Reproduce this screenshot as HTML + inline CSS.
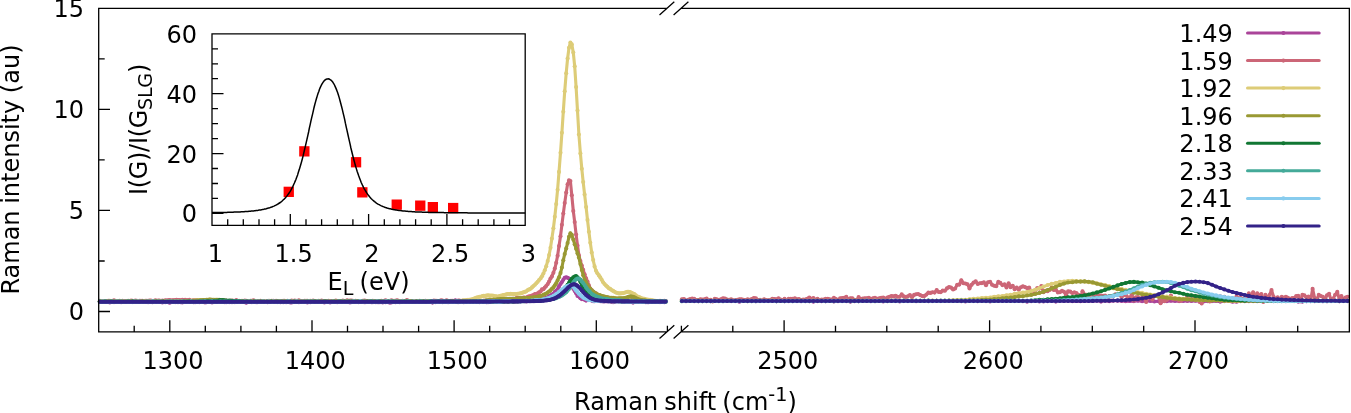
<!DOCTYPE html>
<html lang="en"><head><meta charset="utf-8"><title>Raman spectra</title>
<style>html,body{margin:0;padding:0;background:#fff}svg{display:block}</style></head>
<body>
<svg width="1351" height="413" viewBox="0 0 1351 413">
<rect width="1351" height="413" fill="#fff"/>
<defs>
<marker id="m0" markerUnits="userSpaceOnUse" markerWidth="6" markerHeight="6" refX="3" refY="3" viewBox="0 0 6 6"><circle cx="3" cy="3" r="2.05" fill="#AA4499"/></marker>
<marker id="m1" markerUnits="userSpaceOnUse" markerWidth="6" markerHeight="6" refX="3" refY="3" viewBox="0 0 6 6"><circle cx="3" cy="3" r="2.05" fill="#CC6677"/></marker>
<marker id="m2" markerUnits="userSpaceOnUse" markerWidth="6" markerHeight="6" refX="3" refY="3" viewBox="0 0 6 6"><circle cx="3" cy="3" r="2.05" fill="#DDCC77"/></marker>
<marker id="m3" markerUnits="userSpaceOnUse" markerWidth="6" markerHeight="6" refX="3" refY="3" viewBox="0 0 6 6"><circle cx="3" cy="3" r="2.05" fill="#999933"/></marker>
<marker id="m4" markerUnits="userSpaceOnUse" markerWidth="6" markerHeight="6" refX="3" refY="3" viewBox="0 0 6 6"><circle cx="3" cy="3" r="2.05" fill="#117733"/></marker>
<marker id="m5" markerUnits="userSpaceOnUse" markerWidth="6" markerHeight="6" refX="3" refY="3" viewBox="0 0 6 6"><circle cx="3" cy="3" r="2.05" fill="#44AA99"/></marker>
<marker id="m6" markerUnits="userSpaceOnUse" markerWidth="6" markerHeight="6" refX="3" refY="3" viewBox="0 0 6 6"><circle cx="3" cy="3" r="2.05" fill="#88CCEE"/></marker>
<marker id="m7" markerUnits="userSpaceOnUse" markerWidth="6" markerHeight="6" refX="3" refY="3" viewBox="0 0 6 6"><circle cx="3" cy="3" r="2.05" fill="#332288"/></marker>
</defs>
<g fill="none" stroke-width="3.1" stroke-linejoin="round" stroke-linecap="round">
<path stroke="#AA4499" marker-start="url(#m0)" marker-mid="url(#m0)" marker-end="url(#m0)" d="M99.8,301.9 L101.2,302.0 L102.6,301.8 L104.1,301.5 L105.5,301.7 L106.9,301.5 L108.3,301.9 L109.8,302.4 L111.2,301.7 L112.6,301.6 L114.0,302.1 L115.4,302.0 L116.9,301.9 L118.3,301.5 L119.7,301.9 L121.1,302.2 L122.5,301.4 L124.0,301.7 L125.4,301.1 L126.8,301.4 L128.2,301.2 L129.7,301.8 L131.1,301.4 L132.5,302.0 L133.9,302.0 L135.3,301.8 L136.8,300.9 L138.2,301.7 L139.6,301.9 L141.0,301.9 L142.5,301.3 L143.9,301.7 L145.3,301.5 L146.7,301.6 L148.1,302.3 L149.6,301.6 L151.0,301.9 L152.4,302.2 L153.8,301.7 L155.3,301.8 L156.7,301.9 L158.1,301.9 L159.5,301.4 L160.9,301.9 L162.4,302.4 L163.8,301.3 L165.2,302.2 L166.6,301.9 L168.0,301.6 L169.5,302.7 L170.9,302.2 L172.3,301.4 L173.7,301.9 L175.2,302.1 L176.6,301.8 L178.0,302.2 L179.4,301.9 L180.8,302.2 L182.3,302.5 L183.7,301.6 L185.1,302.0 L186.5,301.7 L188.0,301.9 L189.4,301.4 L190.8,301.7 L192.2,301.8 L193.6,302.2 L195.1,302.3 L196.5,301.4 L197.9,301.6 L199.3,302.1 L200.7,301.1 L202.2,301.7 L203.6,301.8 L205.0,302.4 L206.4,302.2 L207.9,301.8 L209.3,301.7 L210.7,301.8 L212.1,302.5 L213.5,301.7 L215.0,301.8 L216.4,302.0 L217.8,301.8 L219.2,301.8 L220.7,301.4 L222.1,301.9 L223.5,301.7 L224.9,302.3 L226.3,302.1 L227.8,301.9 L229.2,302.1 L230.6,301.7 L232.0,302.3 L233.4,301.9 L234.9,302.1 L236.3,301.4 L237.7,302.0 L239.1,301.2 L240.6,301.1 L242.0,301.8 L243.4,301.5 L244.8,301.9 L246.2,302.8 L247.7,301.5 L249.1,301.6 L250.5,302.0 L251.9,302.1 L253.4,301.8 L254.8,301.8 L256.2,302.2 L257.6,302.1 L259.0,301.5 L260.5,301.8 L261.9,301.9 L263.3,301.5 L264.7,302.0 L266.2,301.5 L267.6,302.3 L269.0,302.0 L270.4,301.9 L271.8,301.6 L273.3,301.8 L274.7,301.1 L276.1,301.4 L277.5,302.0 L278.9,301.0 L280.4,302.2 L281.8,301.2 L283.2,302.2 L284.6,301.5 L286.1,302.2 L287.5,301.9 L288.9,301.3 L290.3,302.4 L291.7,302.5 L293.2,301.8 L294.6,301.8 L296.0,301.8 L297.4,301.5 L298.9,302.3 L300.3,301.7 L301.7,301.9 L303.1,301.6 L304.5,301.6 L306.0,301.4 L307.4,302.4 L308.8,301.8 L310.2,302.3 L311.6,301.9 L313.1,301.6 L314.5,301.7 L315.9,301.6 L317.3,301.9 L318.8,301.7 L320.2,301.7 L321.6,301.3 L323.0,301.5 L324.4,302.5 L325.9,301.6 L327.3,301.4 L328.7,302.0 L330.1,302.4 L331.6,301.3 L333.0,301.8 L334.4,301.6 L335.8,301.2 L337.2,302.2 L338.7,301.9 L340.1,301.9 L341.5,301.6 L342.9,302.0 L344.3,301.6 L345.8,301.8 L347.2,301.4 L348.6,301.4 L350.0,302.4 L351.5,301.7 L352.9,302.0 L354.3,301.8 L355.7,301.7 L357.1,301.7 L358.6,302.1 L360.0,301.7 L361.4,301.8 L362.8,301.9 L364.3,302.3 L365.7,302.1 L367.1,302.0 L368.5,301.6 L369.9,301.3 L371.4,302.2 L372.8,302.2 L374.2,301.8 L375.6,302.1 L377.1,302.2 L378.5,302.2 L379.9,302.2 L381.3,301.7 L382.7,302.4 L384.2,301.3 L385.6,302.2 L387.0,302.0 L388.4,302.2 L389.8,302.6 L391.3,302.4 L392.7,301.4 L394.1,301.2 L395.5,302.2 L397.0,301.4 L398.4,301.8 L399.8,302.2 L401.2,301.2 L402.6,301.0 L404.1,301.9 L405.5,301.8 L406.9,301.7 L408.3,301.8 L409.8,301.5 L411.2,301.2 L412.6,301.7 L414.0,301.4 L415.4,301.2 L416.9,302.0 L418.3,301.8 L419.7,302.0 L421.1,301.4 L422.5,301.5 L424.0,301.4 L425.4,301.4 L426.8,301.9 L428.2,301.5 L429.7,301.9 L431.1,301.9 L432.5,302.6 L433.9,301.2 L435.3,302.1 L436.8,301.7 L438.2,301.8 L439.6,301.2 L441.0,301.6 L442.5,302.1 L443.9,301.7 L445.3,301.8 L446.7,301.6 L448.1,302.2 L449.6,301.7 L451.0,300.9 L452.4,301.5 L453.8,301.0 L455.3,300.4 L456.7,301.5 L458.1,302.3 L459.5,301.7 L460.9,301.3 L462.4,301.3 L463.8,302.2 L465.2,301.8 L466.6,301.7 L468.0,301.7 L469.5,301.7 L470.9,302.0 L472.3,301.9 L473.7,301.8 L475.2,301.2 L476.6,301.9 L478.0,301.4 L479.4,302.1 L480.8,301.1 L482.3,301.6 L483.7,301.6 L485.1,301.1 L486.5,302.3 L488.0,302.2 L489.4,301.4 L490.8,301.9 L492.2,301.7 L493.6,300.5 L495.1,301.6 L496.5,301.5 L497.9,301.5 L499.3,301.0 L500.7,301.3 L502.2,301.4 L503.6,301.9 L505.0,301.5 L506.4,301.4 L507.9,302.0 L509.3,301.1 L510.7,301.1 L512.1,300.5 L513.5,301.9 L515.0,301.6 L516.4,301.5 L517.8,301.4 L519.2,301.1 L520.7,301.1 L522.1,300.9 L523.5,300.8 L524.9,300.9 L526.3,301.4 L527.8,300.9 L529.2,300.6 L530.6,300.3 L532.0,300.1 L533.4,300.9 L534.9,300.3 L536.3,300.0 L537.7,299.7 L539.1,299.2 L540.6,299.3 L542.0,299.4 L543.4,298.6 L544.8,298.3 L546.2,297.8 L547.7,297.4 L549.1,296.0 L550.5,295.7 L551.9,294.5 L553.4,293.9 L554.8,291.9 L556.2,290.8 L557.6,289.2 L559.0,286.4 L560.5,284.0 L561.9,282.0 L563.3,279.8 L564.7,277.7 L566.2,277.2 L567.6,277.7 L569.0,278.6 L570.4,281.7 L571.8,284.9 L573.3,288.8 L574.7,290.9 L576.1,293.2 L577.5,295.9 L578.9,296.4 L580.4,298.2 L581.8,299.1 L583.2,299.1 L584.6,299.7 L586.1,300.6 L587.5,300.0 L588.9,300.0 L590.3,299.9 L591.7,300.6 L593.2,301.3 L594.6,301.2 L596.0,300.6 L597.4,300.7 L598.9,300.9 L600.3,301.3 L601.7,301.1 L603.1,301.4 L604.5,301.4 L606.0,301.2 L607.4,301.4 L608.8,301.5 L610.2,301.4 L611.6,301.7 L613.1,302.3 L614.5,301.8 L615.9,301.6 L617.3,300.9 L618.8,301.7 L620.2,300.8 L621.6,301.1 L623.0,302.0 L624.4,301.9 L625.9,301.6 L627.3,301.0 L628.7,301.5 L630.1,301.4 L631.6,302.0 L633.0,302.6 L634.4,301.8 L635.8,301.4 L637.2,301.3 L638.7,301.7 L640.1,301.7 L641.5,301.3 L642.9,301.8 L644.3,301.3 L645.8,302.2 L647.2,302.2 L648.6,302.2 L650.0,301.6 L651.5,302.0 L652.9,301.7 L654.3,301.6 L655.7,301.7 L657.1,301.3 L658.6,301.2 L660.0,302.1 L661.4,301.7 L662.8,301.9 L664.3,302.2 L665.7,301.1"/>
<path stroke="#AA4499" marker-start="url(#m0)" marker-mid="url(#m0)" marker-end="url(#m0)" d="M681.9,301.0 L686.0,300.8 L690.1,300.9 L694.2,301.3 L698.3,301.3 L702.4,301.0 L706.6,300.9 L710.7,301.3 L714.8,300.7 L718.9,300.6 L723.0,301.0 L727.1,301.0 L731.2,301.1 L735.3,301.0 L739.4,301.8 L743.5,300.8 L747.6,300.9 L751.8,300.8 L755.9,301.3 L760.0,300.8 L764.1,300.7 L768.2,301.0 L772.3,300.9 L776.4,301.1 L780.5,300.5 L784.6,301.3 L788.7,301.1 L792.8,300.9 L797.0,300.9 L801.1,301.2 L805.2,301.0 L809.3,301.1 L813.4,301.6 L817.5,301.1 L821.6,301.3 L825.7,301.2 L829.8,300.9 L833.9,301.4 L838.0,301.2 L842.2,300.8 L846.3,301.1 L850.4,301.6 L854.5,301.3 L858.6,301.3 L862.7,300.9 L866.8,301.0 L870.9,301.2 L875.0,300.8 L879.1,300.6 L883.2,301.5 L887.3,300.8 L891.5,300.6 L895.6,300.3 L899.7,301.5 L903.8,301.0 L907.9,300.8 L912.0,300.7 L916.1,301.3 L920.2,300.9 L924.3,300.7 L928.4,301.1 L932.5,301.0 L936.7,300.9 L940.8,300.8 L944.9,300.8 L949.0,301.0 L953.1,300.9 L957.2,300.7 L961.3,301.3 L965.4,301.4 L969.5,301.0 L973.6,301.0 L977.7,301.3 L981.9,300.8 L986.0,301.1 L990.1,301.4 L994.2,301.0 L998.3,300.5 L1002.4,300.7 L1006.5,300.8 L1010.6,301.0 L1014.7,300.6 L1018.8,300.6 L1022.9,301.2 L1027.1,301.6 L1031.2,301.2 L1035.3,301.0 L1039.4,301.4 L1043.5,301.4 L1047.6,301.3 L1051.7,300.7 L1055.8,301.6 L1059.9,300.6 L1064.0,300.9 L1068.1,300.4 L1072.3,301.1 L1076.4,301.0 L1080.5,301.2 L1084.6,301.0 L1088.7,300.7 L1092.8,301.0 L1096.9,300.6 L1101.0,301.6 L1105.1,300.6 L1109.2,301.2 L1113.3,300.7 L1117.5,300.8 L1121.6,300.9 L1125.7,301.3 L1129.8,301.0 L1133.9,301.1 L1138.0,300.6 L1142.1,301.3 L1146.2,301.0 L1150.3,300.9 L1154.4,301.5 L1158.5,301.3 L1162.7,301.1 L1166.8,301.3 L1170.9,300.7 L1175.0,301.0 L1179.1,301.1 L1183.2,300.9 L1187.3,300.9 L1191.4,301.0 L1195.5,300.7 L1199.6,301.0 L1203.7,301.4 L1207.9,301.2 L1212.0,301.1 L1216.1,300.9 L1220.2,301.6 L1224.3,301.1 L1228.4,300.7 L1232.5,301.7 L1236.6,301.7 L1240.7,301.1 L1244.8,301.2 L1248.9,301.2 L1253.1,301.1 L1257.2,301.3 L1261.3,300.9 L1265.4,300.9 L1269.5,300.8 L1273.6,301.2 L1277.7,301.1 L1281.8,301.0 L1285.9,301.3 L1290.0,300.9 L1294.1,301.0 L1298.2,301.6 L1302.4,301.6 L1306.5,301.3 L1310.6,301.1 L1314.7,301.2 L1318.8,300.7 L1322.9,301.3 L1327.0,301.3 L1331.1,301.0 L1335.2,300.6 L1339.3,301.3 L1343.4,300.9 L1347.6,301.1"/>
<path stroke="#CC6677" marker-start="url(#m1)" marker-mid="url(#m1)" marker-end="url(#m1)" d="M99.8,300.8 L101.2,301.2 L102.6,301.2 L104.1,301.0 L105.5,301.4 L106.9,301.2 L108.3,300.7 L109.8,300.8 L111.2,301.4 L112.6,301.2 L114.0,300.4 L115.4,301.6 L116.9,301.3 L118.3,301.6 L119.7,300.9 L121.1,301.0 L122.5,300.7 L124.0,302.0 L125.4,301.0 L126.8,301.6 L128.2,300.9 L129.7,301.1 L131.1,300.5 L132.5,300.9 L133.9,301.4 L135.3,300.6 L136.8,301.4 L138.2,301.2 L139.6,300.7 L141.0,300.9 L142.5,300.9 L143.9,301.0 L145.3,300.9 L146.7,300.7 L148.1,300.9 L149.6,300.6 L151.0,300.5 L152.4,301.0 L153.8,301.3 L155.3,300.4 L156.7,300.9 L158.1,300.6 L159.5,300.5 L160.9,301.0 L162.4,300.5 L163.8,301.2 L165.2,300.3 L166.6,300.6 L168.0,300.3 L169.5,300.1 L170.9,300.5 L172.3,300.2 L173.7,300.4 L175.2,300.1 L176.6,299.7 L178.0,300.1 L179.4,300.1 L180.8,300.5 L182.3,299.8 L183.7,300.2 L185.1,299.7 L186.5,300.5 L188.0,300.0 L189.4,299.8 L190.8,300.5 L192.2,301.0 L193.6,300.1 L195.1,300.3 L196.5,300.5 L197.9,300.4 L199.3,301.0 L200.7,300.6 L202.2,300.7 L203.6,301.2 L205.0,300.7 L206.4,301.1 L207.9,300.7 L209.3,300.6 L210.7,300.4 L212.1,301.7 L213.5,300.9 L215.0,301.1 L216.4,301.0 L217.8,301.1 L219.2,301.1 L220.7,301.7 L222.1,300.7 L223.5,300.5 L224.9,300.7 L226.3,300.6 L227.8,301.3 L229.2,301.4 L230.6,300.7 L232.0,300.6 L233.4,300.9 L234.9,301.6 L236.3,300.1 L237.7,301.3 L239.1,300.7 L240.6,301.4 L242.0,300.7 L243.4,301.0 L244.8,300.5 L246.2,300.7 L247.7,301.6 L249.1,301.4 L250.5,300.9 L251.9,300.8 L253.4,300.4 L254.8,300.9 L256.2,301.1 L257.6,301.0 L259.0,301.0 L260.5,300.7 L261.9,301.0 L263.3,301.1 L264.7,301.5 L266.2,301.7 L267.6,301.0 L269.0,300.8 L270.4,301.0 L271.8,300.9 L273.3,300.8 L274.7,301.0 L276.1,300.7 L277.5,301.3 L278.9,301.0 L280.4,301.2 L281.8,301.0 L283.2,300.8 L284.6,300.7 L286.1,301.0 L287.5,300.9 L288.9,301.1 L290.3,301.1 L291.7,300.6 L293.2,301.1 L294.6,300.6 L296.0,300.8 L297.4,301.0 L298.9,300.3 L300.3,301.1 L301.7,301.1 L303.1,301.0 L304.5,300.9 L306.0,300.9 L307.4,300.7 L308.8,301.0 L310.2,300.9 L311.6,301.1 L313.1,300.6 L314.5,301.1 L315.9,301.1 L317.3,301.0 L318.8,300.9 L320.2,301.2 L321.6,300.5 L323.0,301.2 L324.4,301.1 L325.9,301.1 L327.3,301.2 L328.7,300.8 L330.1,301.0 L331.6,301.3 L333.0,301.2 L334.4,301.1 L335.8,300.5 L337.2,301.2 L338.7,301.5 L340.1,301.4 L341.5,301.1 L342.9,300.5 L344.3,301.4 L345.8,301.0 L347.2,300.2 L348.6,301.2 L350.0,300.5 L351.5,300.6 L352.9,300.8 L354.3,301.5 L355.7,300.9 L357.1,301.1 L358.6,301.6 L360.0,301.6 L361.4,301.0 L362.8,300.9 L364.3,300.6 L365.7,300.8 L367.1,301.2 L368.5,301.2 L369.9,301.1 L371.4,301.4 L372.8,300.7 L374.2,301.0 L375.6,301.3 L377.1,301.2 L378.5,301.4 L379.9,301.2 L381.3,300.9 L382.7,301.1 L384.2,300.7 L385.6,300.4 L387.0,301.2 L388.4,301.0 L389.8,301.1 L391.3,300.4 L392.7,300.9 L394.1,300.8 L395.5,300.7 L397.0,300.2 L398.4,300.9 L399.8,301.3 L401.2,301.1 L402.6,300.8 L404.1,301.0 L405.5,301.3 L406.9,300.0 L408.3,300.9 L409.8,301.2 L411.2,301.2 L412.6,301.6 L414.0,301.4 L415.4,301.1 L416.9,301.1 L418.3,301.3 L419.7,300.8 L421.1,301.0 L422.5,301.3 L424.0,301.7 L425.4,300.9 L426.8,301.0 L428.2,301.0 L429.7,301.4 L431.1,301.0 L432.5,301.5 L433.9,300.6 L435.3,300.9 L436.8,300.9 L438.2,301.2 L439.6,301.3 L441.0,300.4 L442.5,300.6 L443.9,301.1 L445.3,300.7 L446.7,300.4 L448.1,301.3 L449.6,301.1 L451.0,301.1 L452.4,300.8 L453.8,301.3 L455.3,300.8 L456.7,301.3 L458.1,300.6 L459.5,300.6 L460.9,301.0 L462.4,300.7 L463.8,301.2 L465.2,301.0 L466.6,300.6 L468.0,300.9 L469.5,300.8 L470.9,301.2 L472.3,300.7 L473.7,300.8 L475.2,301.3 L476.6,301.7 L478.0,301.6 L479.4,300.9 L480.8,301.0 L482.3,301.4 L483.7,300.8 L485.1,300.5 L486.5,300.8 L488.0,300.9 L489.4,300.4 L490.8,300.0 L492.2,300.1 L493.6,300.7 L495.1,300.1 L496.5,300.3 L497.9,300.3 L499.3,300.4 L500.7,300.0 L502.2,300.2 L503.6,299.6 L505.0,299.6 L506.4,299.3 L507.9,299.9 L509.3,299.4 L510.7,299.0 L512.1,298.9 L513.5,298.8 L515.0,299.0 L516.4,298.0 L517.8,298.0 L519.2,298.0 L520.7,298.9 L522.1,298.1 L523.5,297.5 L524.9,297.6 L526.3,297.8 L527.8,296.7 L529.2,296.3 L530.6,296.4 L532.0,295.6 L533.4,295.1 L534.9,294.0 L536.3,294.2 L537.7,293.4 L539.1,292.2 L540.6,291.4 L542.0,289.4 L543.4,289.2 L544.8,287.5 L546.2,286.0 L547.7,284.1 L549.1,281.6 L550.5,278.5 L551.9,276.4 L553.4,272.8 L554.8,268.6 L556.2,262.8 L557.6,255.8 L559.0,246.0 L560.5,236.2 L561.9,224.8 L563.3,213.6 L564.7,203.1 L566.2,192.6 L567.6,184.3 L569.0,180.4 L570.4,181.1 L571.8,195.3 L573.3,211.0 L574.7,222.1 L576.1,234.5 L577.5,245.5 L578.9,255.3 L580.4,261.1 L581.8,265.6 L583.2,269.9 L584.6,274.2 L586.1,278.4 L587.5,281.6 L588.9,285.4 L590.3,288.5 L591.7,290.4 L593.2,291.7 L594.6,292.8 L596.0,293.4 L597.4,295.0 L598.9,295.2 L600.3,295.8 L601.7,296.3 L603.1,296.9 L604.5,297.1 L606.0,297.6 L607.4,297.5 L608.8,298.1 L610.2,299.3 L611.6,298.7 L613.1,298.8 L614.5,299.3 L615.9,299.6 L617.3,299.1 L618.8,299.6 L620.2,300.1 L621.6,300.0 L623.0,300.1 L624.4,300.7 L625.9,300.0 L627.3,300.4 L628.7,300.3 L630.1,301.1 L631.6,300.0 L633.0,300.5 L634.4,300.6 L635.8,301.1 L637.2,301.1 L638.7,301.4 L640.1,300.4 L641.5,301.3 L642.9,300.9 L644.3,300.8 L645.8,301.3 L647.2,300.8 L648.6,300.4 L650.0,301.0 L651.5,300.7 L652.9,301.0 L654.3,301.3 L655.7,301.3 L657.1,301.8 L658.6,301.2 L660.0,300.7 L661.4,301.0 L662.8,301.0 L664.3,300.9 L665.7,301.4"/>
<path stroke="#CC6677" marker-start="url(#m1)" marker-mid="url(#m1)" marker-end="url(#m1)" d="M681.9,299.3 L684.0,299.0 L686.0,301.3 L688.1,299.7 L690.1,299.1 L692.2,298.5 L694.2,298.9 L696.3,300.1 L698.3,300.1 L700.4,299.3 L702.4,299.5 L704.5,299.2 L706.6,298.6 L708.6,300.5 L710.7,299.8 L712.7,301.5 L714.8,298.8 L716.8,299.3 L718.9,300.2 L720.9,299.2 L723.0,298.3 L725.0,298.6 L727.1,299.5 L729.2,299.7 L731.2,299.3 L733.3,300.2 L735.3,300.2 L737.4,299.7 L739.4,299.4 L741.5,299.2 L743.5,299.8 L745.6,300.1 L747.6,299.4 L749.7,299.7 L751.8,299.1 L753.8,298.1 L755.9,298.4 L757.9,300.0 L760.0,299.7 L762.0,300.7 L764.1,299.3 L766.1,300.0 L768.2,300.4 L770.2,300.1 L772.3,298.7 L774.4,299.1 L776.4,299.3 L778.5,298.3 L780.5,299.6 L782.6,300.1 L784.6,298.7 L786.7,300.9 L788.7,298.9 L790.8,298.9 L792.8,298.9 L794.9,298.4 L797.0,299.4 L799.0,299.0 L801.1,300.5 L803.1,299.5 L805.2,299.5 L807.2,298.7 L809.3,297.6 L811.3,298.8 L813.4,298.1 L815.4,299.7 L817.5,298.8 L819.6,300.3 L821.6,299.5 L823.7,299.5 L825.7,298.9 L827.8,298.9 L829.8,299.3 L831.9,299.5 L833.9,297.9 L836.0,299.0 L838.0,300.9 L840.1,298.3 L842.2,298.1 L844.2,297.7 L846.3,296.9 L848.3,299.4 L850.4,298.2 L852.4,298.4 L854.5,299.9 L856.5,300.5 L858.6,297.1 L860.6,299.0 L862.7,298.5 L864.8,298.2 L866.8,298.3 L868.9,297.7 L870.9,299.2 L873.0,298.2 L875.0,297.9 L877.1,298.7 L879.1,298.3 L881.2,297.8 L883.2,297.5 L885.3,298.8 L887.3,297.5 L889.4,296.8 L891.5,296.0 L893.5,296.4 L895.6,295.7 L897.6,296.7 L899.7,296.8 L901.7,294.4 L903.8,296.4 L905.8,297.0 L907.9,296.3 L909.9,295.0 L912.0,297.3 L914.1,294.9 L916.1,294.2 L918.2,294.1 L920.2,295.1 L922.3,296.1 L924.3,296.1 L926.4,294.6 L928.4,292.6 L930.5,292.9 L932.5,292.2 L934.6,292.6 L936.7,290.0 L938.7,292.0 L940.8,292.1 L942.8,290.5 L944.9,290.8 L946.9,288.4 L949.0,287.1 L951.0,287.6 L953.1,289.5 L955.1,288.5 L957.2,284.7 L959.3,284.6 L961.3,280.2 L963.4,283.3 L965.4,283.5 L967.5,284.2 L969.5,288.4 L971.6,284.8 L973.6,282.6 L975.7,281.4 L977.7,283.9 L979.8,283.3 L981.9,283.1 L983.9,282.4 L986.0,285.2 L988.0,282.2 L990.1,281.7 L992.1,284.8 L994.2,285.8 L996.2,286.2 L998.3,281.9 L1000.3,282.9 L1002.4,285.1 L1004.5,284.4 L1006.5,287.4 L1008.6,283.3 L1010.6,287.2 L1012.7,285.7 L1014.7,289.3 L1016.8,287.5 L1018.8,289.7 L1020.9,287.3 L1022.9,286.3 L1025.0,287.1 L1027.1,288.1 L1029.1,287.6 L1031.2,291.5 L1033.2,291.8 L1035.3,290.2 L1037.3,288.1 L1039.4,288.6 L1041.4,286.0 L1043.5,292.3 L1045.5,290.8 L1047.6,291.3 L1049.7,290.0 L1051.7,287.5 L1053.8,289.9 L1055.8,289.6 L1057.9,292.4 L1059.9,292.2 L1062.0,290.9 L1064.0,291.8 L1066.1,295.4 L1068.1,291.3 L1070.2,291.6 L1072.3,293.0 L1074.3,292.4 L1076.4,293.1 L1078.4,294.9 L1080.5,297.2 L1082.5,291.2 L1084.6,294.5 L1086.6,294.7 L1088.7,294.7 L1090.7,294.6 L1092.8,294.5 L1094.9,297.0 L1096.9,294.5 L1099.0,295.2 L1101.0,295.6 L1103.1,295.9 L1105.1,295.5 L1107.2,297.8 L1109.2,296.0 L1111.3,296.4 L1113.3,296.1 L1115.4,294.4 L1117.5,294.9 L1119.5,294.5 L1121.6,297.0 L1123.6,295.3 L1125.7,294.7 L1127.7,297.3 L1129.8,298.0 L1131.8,293.6 L1133.9,300.4 L1135.9,297.2 L1138.0,297.0 L1140.1,299.5 L1142.1,297.5 L1144.2,296.3 L1146.2,302.0 L1148.3,295.4 L1150.3,297.5 L1152.4,299.5 L1154.4,295.6 L1156.5,296.0 L1158.5,295.2 L1160.6,303.3 L1162.7,299.8 L1164.7,301.3 L1166.8,299.9 L1168.8,298.4 L1170.9,295.6 L1172.9,299.1 L1175.0,298.5 L1177.0,299.3 L1179.1,300.8 L1181.1,300.6 L1183.2,299.3 L1185.3,299.1 L1187.3,296.0 L1189.4,298.1 L1191.4,298.9 L1193.5,297.6 L1195.5,298.7 L1197.6,296.6 L1199.6,302.0 L1201.7,303.5 L1203.7,297.6 L1205.8,299.5 L1207.9,298.0 L1209.9,301.5 L1212.0,299.6 L1214.0,298.8 L1216.1,298.1 L1218.1,298.9 L1220.2,296.3 L1222.2,300.2 L1224.3,296.9 L1226.3,299.8 L1228.4,298.9 L1230.5,301.1 L1232.5,298.5 L1234.6,300.9 L1236.6,296.3 L1238.7,299.8 L1240.7,297.8 L1242.8,298.8 L1244.8,298.4 L1246.9,300.4 L1248.9,293.4 L1251.0,298.4 L1253.1,292.2 L1255.1,300.5 L1257.2,293.3 L1259.2,295.6 L1261.3,294.0 L1263.3,301.9 L1265.4,294.9 L1267.4,298.1 L1269.5,295.0 L1271.5,290.0 L1273.6,296.7 L1275.7,299.4 L1277.7,297.3 L1279.8,300.0 L1281.8,296.8 L1283.9,297.7 L1285.9,296.7 L1288.0,297.9 L1290.0,299.2 L1292.1,298.0 L1294.1,298.1 L1296.2,296.1 L1298.2,295.8 L1300.3,301.2 L1302.4,294.9 L1304.4,295.4 L1306.5,297.4 L1308.5,296.5 L1310.6,300.8 L1312.6,288.9 L1314.7,298.3 L1316.7,299.4 L1318.8,294.8 L1320.8,296.0 L1322.9,296.9 L1325.0,299.7 L1327.0,295.2 L1329.1,293.7 L1331.1,299.9 L1333.2,298.6 L1335.2,294.8 L1337.3,291.9 L1339.3,299.2 L1341.4,296.0 L1343.4,300.4 L1345.5,297.5 L1347.6,296.7"/>
<path stroke="#DDCC77" marker-start="url(#m2)" marker-mid="url(#m2)" marker-end="url(#m2)" d="M99.8,301.5 L101.2,301.4 L102.6,301.7 L104.1,301.6 L105.5,301.6 L106.9,301.6 L108.3,301.7 L109.8,301.6 L111.2,301.7 L112.6,301.6 L114.0,301.6 L115.4,301.6 L116.9,301.4 L118.3,301.6 L119.7,301.6 L121.1,301.6 L122.5,301.4 L124.0,301.8 L125.4,301.6 L126.8,301.4 L128.2,301.4 L129.7,301.5 L131.1,301.6 L132.5,301.5 L133.9,301.6 L135.3,301.5 L136.8,301.6 L138.2,301.5 L139.6,301.6 L141.0,301.7 L142.5,301.9 L143.9,301.4 L145.3,301.5 L146.7,301.5 L148.1,301.7 L149.6,301.4 L151.0,301.5 L152.4,301.6 L153.8,301.4 L155.3,301.4 L156.7,301.5 L158.1,301.3 L159.5,301.4 L160.9,301.5 L162.4,301.6 L163.8,301.5 L165.2,301.3 L166.6,301.5 L168.0,301.6 L169.5,301.6 L170.9,301.5 L172.3,301.4 L173.7,301.5 L175.2,301.4 L176.6,301.3 L178.0,301.3 L179.4,301.5 L180.8,301.3 L182.3,301.4 L183.7,301.1 L185.1,301.2 L186.5,301.0 L188.0,300.9 L189.4,301.2 L190.8,300.9 L192.2,300.6 L193.6,300.6 L195.1,300.5 L196.5,300.5 L197.9,300.2 L199.3,300.0 L200.7,300.1 L202.2,300.1 L203.6,300.1 L205.0,300.2 L206.4,300.0 L207.9,300.1 L209.3,299.9 L210.7,300.2 L212.1,300.4 L213.5,300.3 L215.0,300.3 L216.4,300.4 L217.8,300.7 L219.2,300.5 L220.7,300.7 L222.1,300.8 L223.5,301.0 L224.9,300.9 L226.3,301.1 L227.8,301.1 L229.2,301.2 L230.6,301.2 L232.0,301.1 L233.4,301.3 L234.9,301.5 L236.3,301.3 L237.7,301.4 L239.1,301.5 L240.6,301.3 L242.0,301.5 L243.4,301.4 L244.8,301.6 L246.2,301.8 L247.7,301.8 L249.1,301.5 L250.5,301.6 L251.9,301.6 L253.4,301.6 L254.8,301.7 L256.2,301.4 L257.6,301.7 L259.0,301.6 L260.5,301.7 L261.9,301.6 L263.3,301.5 L264.7,301.6 L266.2,301.7 L267.6,301.6 L269.0,301.6 L270.4,301.5 L271.8,301.3 L273.3,301.7 L274.7,301.7 L276.1,301.6 L277.5,301.6 L278.9,301.7 L280.4,301.5 L281.8,301.5 L283.2,301.6 L284.6,301.7 L286.1,301.4 L287.5,301.7 L288.9,301.5 L290.3,301.5 L291.7,301.7 L293.2,301.6 L294.6,301.4 L296.0,301.5 L297.4,301.7 L298.9,301.7 L300.3,301.5 L301.7,301.6 L303.1,301.7 L304.5,301.5 L306.0,301.6 L307.4,301.6 L308.8,301.5 L310.2,301.5 L311.6,301.6 L313.1,301.6 L314.5,301.5 L315.9,301.5 L317.3,301.7 L318.8,301.6 L320.2,301.7 L321.6,301.7 L323.0,301.7 L324.4,301.9 L325.9,301.5 L327.3,301.7 L328.7,301.6 L330.1,301.8 L331.6,301.8 L333.0,301.4 L334.4,301.5 L335.8,301.7 L337.2,301.7 L338.7,301.7 L340.1,301.6 L341.5,301.6 L342.9,301.7 L344.3,301.6 L345.8,301.7 L347.2,301.3 L348.6,301.7 L350.0,301.5 L351.5,301.7 L352.9,301.6 L354.3,301.5 L355.7,301.6 L357.1,301.5 L358.6,301.5 L360.0,301.4 L361.4,301.6 L362.8,301.7 L364.3,301.7 L365.7,301.6 L367.1,301.7 L368.5,301.6 L369.9,301.6 L371.4,301.7 L372.8,301.7 L374.2,301.6 L375.6,301.6 L377.1,301.6 L378.5,301.6 L379.9,301.5 L381.3,301.7 L382.7,301.5 L384.2,301.7 L385.6,301.5 L387.0,301.6 L388.4,301.6 L389.8,301.5 L391.3,301.8 L392.7,301.6 L394.1,301.8 L395.5,301.7 L397.0,301.5 L398.4,301.6 L399.8,301.6 L401.2,301.6 L402.6,301.6 L404.1,301.6 L405.5,301.4 L406.9,301.6 L408.3,301.3 L409.8,301.6 L411.2,301.5 L412.6,301.5 L414.0,301.6 L415.4,301.6 L416.9,301.4 L418.3,301.4 L419.7,301.5 L421.1,301.4 L422.5,301.5 L424.0,301.8 L425.4,301.5 L426.8,301.7 L428.2,301.4 L429.7,301.6 L431.1,301.6 L432.5,301.6 L433.9,301.7 L435.3,301.8 L436.8,301.6 L438.2,301.6 L439.6,301.5 L441.0,301.7 L442.5,301.6 L443.9,301.7 L445.3,301.5 L446.7,301.7 L448.1,301.2 L449.6,301.4 L451.0,301.5 L452.4,301.3 L453.8,301.2 L455.3,301.2 L456.7,301.0 L458.1,301.1 L459.5,301.2 L460.9,301.0 L462.4,300.5 L463.8,300.4 L465.2,300.3 L466.6,300.3 L468.0,299.9 L469.5,299.7 L470.9,299.6 L472.3,299.3 L473.7,298.7 L475.2,298.1 L476.6,297.6 L478.0,297.3 L479.4,296.7 L480.8,296.7 L482.3,296.1 L483.7,295.9 L485.1,295.9 L486.5,295.6 L488.0,295.4 L489.4,295.6 L490.8,295.6 L492.2,295.5 L493.6,295.8 L495.1,296.3 L496.5,296.4 L497.9,296.9 L499.3,296.1 L500.7,295.8 L502.2,295.4 L503.6,295.0 L505.0,294.7 L506.4,294.3 L507.9,294.0 L509.3,294.0 L510.7,293.7 L512.1,294.0 L513.5,294.0 L515.0,294.1 L516.4,294.0 L517.8,293.7 L519.2,293.5 L520.7,293.4 L522.1,292.9 L523.5,292.2 L524.9,291.9 L526.3,291.3 L527.8,290.1 L529.2,289.4 L530.6,288.7 L532.0,287.4 L533.4,286.1 L534.9,284.8 L536.3,283.2 L537.7,281.7 L539.1,280.0 L540.6,278.4 L542.0,276.2 L543.4,273.6 L544.8,270.2 L546.2,266.2 L547.7,261.0 L549.1,255.0 L550.5,247.7 L551.9,238.6 L553.4,228.3 L554.8,216.8 L556.2,204.1 L557.6,189.7 L559.0,171.9 L560.5,152.8 L561.9,132.8 L563.3,111.7 L564.7,91.3 L566.2,73.2 L567.6,58.5 L569.0,47.8 L570.4,42.5 L571.8,44.4 L573.3,52.5 L574.7,66.3 L576.1,87.1 L577.5,110.6 L578.9,134.5 L580.4,153.4 L581.8,168.7 L583.2,182.1 L584.6,194.4 L586.1,207.0 L587.5,219.9 L588.9,231.8 L590.3,242.8 L591.7,252.4 L593.2,260.1 L594.6,266.4 L596.0,270.7 L597.4,273.3 L598.9,275.4 L600.3,277.4 L601.7,279.8 L603.1,282.3 L604.5,284.0 L606.0,285.6 L607.4,286.8 L608.8,288.2 L610.2,288.9 L611.6,290.0 L613.1,290.9 L614.5,291.7 L615.9,292.5 L617.3,293.0 L618.8,293.4 L620.2,293.4 L621.6,293.3 L623.0,293.1 L624.4,292.7 L625.9,292.2 L627.3,291.9 L628.7,291.8 L630.1,292.1 L631.6,292.7 L633.0,293.5 L634.4,294.1 L635.8,295.3 L637.2,296.5 L638.7,296.8 L640.1,297.6 L641.5,298.2 L642.9,298.6 L644.3,298.9 L645.8,299.3 L647.2,299.6 L648.6,299.9 L650.0,299.9 L651.5,300.3 L652.9,300.4 L654.3,300.7 L655.7,300.9 L657.1,301.1 L658.6,301.3 L660.0,301.2 L661.4,301.5 L662.8,301.6 L664.3,301.6 L665.7,301.7"/>
<path stroke="#DDCC77" marker-start="url(#m2)" marker-mid="url(#m2)" marker-end="url(#m2)" d="M681.9,300.8 L686.0,301.0 L690.1,300.8 L694.2,300.8 L698.3,300.9 L702.4,300.8 L706.6,300.8 L710.7,300.9 L714.8,300.8 L718.9,301.0 L723.0,300.8 L727.1,300.9 L731.2,300.9 L735.3,301.0 L739.4,300.8 L743.5,300.9 L747.6,300.7 L751.8,300.9 L755.9,300.9 L760.0,300.9 L764.1,300.9 L768.2,300.8 L772.3,300.6 L776.4,300.7 L780.5,300.8 L784.6,300.9 L788.7,300.9 L792.8,300.9 L797.0,300.7 L801.1,300.8 L805.2,300.9 L809.3,300.8 L813.4,300.6 L817.5,300.8 L821.6,300.8 L825.7,300.7 L829.8,300.7 L833.9,300.7 L838.0,301.0 L842.2,300.8 L846.3,300.7 L850.4,300.8 L854.5,300.8 L858.6,300.9 L862.7,300.7 L866.8,300.9 L870.9,300.8 L875.0,300.6 L879.1,300.8 L883.2,300.8 L887.3,300.8 L891.5,300.5 L895.6,300.7 L899.7,300.7 L903.8,300.8 L907.9,300.7 L912.0,300.6 L916.1,300.6 L920.2,300.7 L924.3,300.7 L928.4,300.7 L932.5,300.5 L936.7,300.8 L940.8,300.7 L944.9,300.6 L949.0,300.5 L953.1,300.3 L957.2,300.1 L961.3,299.9 L965.4,299.7 L969.5,299.3 L973.6,298.9 L977.7,298.6 L981.9,298.1 L986.0,297.8 L990.1,297.6 L994.2,296.8 L998.3,296.4 L1002.4,296.0 L1006.5,295.2 L1010.6,294.7 L1014.7,293.9 L1018.8,293.3 L1022.9,292.6 L1027.1,292.1 L1031.2,291.1 L1035.3,289.8 L1039.4,288.1 L1043.5,286.6 L1047.6,285.1 L1051.7,283.9 L1055.8,283.0 L1059.9,281.9 L1064.0,281.6 L1068.1,281.1 L1072.3,280.8 L1076.4,281.1 L1080.5,281.2 L1084.6,281.5 L1088.7,282.3 L1092.8,282.9 L1096.9,283.3 L1101.0,284.3 L1105.1,285.1 L1109.2,286.0 L1113.3,287.2 L1117.5,287.9 L1121.6,288.9 L1125.7,289.9 L1129.8,290.8 L1133.9,291.3 L1138.0,292.2 L1142.1,292.9 L1146.2,293.7 L1150.3,294.5 L1154.4,295.1 L1158.5,295.6 L1162.7,296.2 L1166.8,296.6 L1170.9,297.5 L1175.0,298.1 L1179.1,298.5 L1183.2,298.7 L1187.3,299.2 L1191.4,299.3 L1195.5,299.7 L1199.6,299.9 L1203.7,300.0 L1207.9,300.3 L1212.0,300.2 L1216.1,300.3 L1220.2,300.5 L1224.3,300.8 L1228.4,300.7 L1232.5,300.7 L1236.6,300.9 L1240.7,301.0 L1244.8,300.8 L1248.9,300.8 L1253.1,300.7 L1257.2,300.7 L1261.3,300.7 L1265.4,300.7 L1269.5,300.7 L1273.6,300.9 L1277.7,300.8 L1281.8,300.6 L1285.9,300.9 L1290.0,300.9 L1294.1,300.7 L1298.2,300.8 L1302.4,300.7 L1306.5,300.9 L1310.6,300.7 L1314.7,300.8 L1318.8,301.0 L1322.9,300.7 L1327.0,300.9 L1331.1,300.9 L1335.2,300.7 L1339.3,301.0 L1343.4,300.7 L1347.6,300.8"/>
<path stroke="#999933" marker-start="url(#m3)" marker-mid="url(#m3)" marker-end="url(#m3)" d="M99.8,301.6 L101.2,301.6 L102.6,301.7 L104.1,301.4 L105.5,301.6 L106.9,301.5 L108.3,301.5 L109.8,301.4 L111.2,301.5 L112.6,301.6 L114.0,301.7 L115.4,301.7 L116.9,301.6 L118.3,301.6 L119.7,301.5 L121.1,301.6 L122.5,301.6 L124.0,301.7 L125.4,301.8 L126.8,301.6 L128.2,301.4 L129.7,301.5 L131.1,301.4 L132.5,301.4 L133.9,301.7 L135.3,301.6 L136.8,301.4 L138.2,301.7 L139.6,301.7 L141.0,301.5 L142.5,301.5 L143.9,301.5 L145.3,301.6 L146.7,301.6 L148.1,301.7 L149.6,301.7 L151.0,301.7 L152.4,301.7 L153.8,301.6 L155.3,301.4 L156.7,301.5 L158.1,301.6 L159.5,301.5 L160.9,301.7 L162.4,301.5 L163.8,301.4 L165.2,301.7 L166.6,301.6 L168.0,301.6 L169.5,301.6 L170.9,301.7 L172.3,301.6 L173.7,301.2 L175.2,301.4 L176.6,301.4 L178.0,301.4 L179.4,301.5 L180.8,301.6 L182.3,301.4 L183.7,301.2 L185.1,301.6 L186.5,301.2 L188.0,301.1 L189.4,301.2 L190.8,301.1 L192.2,300.9 L193.6,301.0 L195.1,300.7 L196.5,300.6 L197.9,300.6 L199.3,300.5 L200.7,300.2 L202.2,300.2 L203.6,300.0 L205.0,300.2 L206.4,299.7 L207.9,299.9 L209.3,299.6 L210.7,299.6 L212.1,299.7 L213.5,299.7 L215.0,299.8 L216.4,299.8 L217.8,299.8 L219.2,299.9 L220.7,300.2 L222.1,300.3 L223.5,300.6 L224.9,300.6 L226.3,300.8 L227.8,301.0 L229.2,300.9 L230.6,300.8 L232.0,300.9 L233.4,301.0 L234.9,301.4 L236.3,301.2 L237.7,301.5 L239.1,301.4 L240.6,301.6 L242.0,301.5 L243.4,301.4 L244.8,301.4 L246.2,301.5 L247.7,301.5 L249.1,301.4 L250.5,301.5 L251.9,301.7 L253.4,301.3 L254.8,301.6 L256.2,301.4 L257.6,301.6 L259.0,301.6 L260.5,301.5 L261.9,301.6 L263.3,301.3 L264.7,301.7 L266.2,301.5 L267.6,301.6 L269.0,301.6 L270.4,301.2 L271.8,301.5 L273.3,301.6 L274.7,301.7 L276.1,301.6 L277.5,301.6 L278.9,301.4 L280.4,301.7 L281.8,301.8 L283.2,301.6 L284.6,301.5 L286.1,301.4 L287.5,301.7 L288.9,301.9 L290.3,301.6 L291.7,301.7 L293.2,301.6 L294.6,301.4 L296.0,301.7 L297.4,301.4 L298.9,301.5 L300.3,301.6 L301.7,301.7 L303.1,301.6 L304.5,301.6 L306.0,301.5 L307.4,301.4 L308.8,301.6 L310.2,301.5 L311.6,301.4 L313.1,301.4 L314.5,301.5 L315.9,301.3 L317.3,301.4 L318.8,301.3 L320.2,301.6 L321.6,301.6 L323.0,301.8 L324.4,301.4 L325.9,301.5 L327.3,301.6 L328.7,301.5 L330.1,301.5 L331.6,301.7 L333.0,301.5 L334.4,301.4 L335.8,301.4 L337.2,301.6 L338.7,301.6 L340.1,301.4 L341.5,301.4 L342.9,301.6 L344.3,301.6 L345.8,301.4 L347.2,301.6 L348.6,301.6 L350.0,301.3 L351.5,301.5 L352.9,301.6 L354.3,301.5 L355.7,301.3 L357.1,301.5 L358.6,301.6 L360.0,301.7 L361.4,301.3 L362.8,301.8 L364.3,301.4 L365.7,301.6 L367.1,301.7 L368.5,301.6 L369.9,301.5 L371.4,301.4 L372.8,301.6 L374.2,301.4 L375.6,301.2 L377.1,301.8 L378.5,301.6 L379.9,301.7 L381.3,301.4 L382.7,301.7 L384.2,301.7 L385.6,301.7 L387.0,301.5 L388.4,301.4 L389.8,301.5 L391.3,301.2 L392.7,301.3 L394.1,301.5 L395.5,301.4 L397.0,301.5 L398.4,301.5 L399.8,301.7 L401.2,301.6 L402.6,301.5 L404.1,301.6 L405.5,301.4 L406.9,301.4 L408.3,301.6 L409.8,301.3 L411.2,301.4 L412.6,301.3 L414.0,301.5 L415.4,301.7 L416.9,301.4 L418.3,301.5 L419.7,301.4 L421.1,301.3 L422.5,301.3 L424.0,301.6 L425.4,301.7 L426.8,301.5 L428.2,301.4 L429.7,301.5 L431.1,301.4 L432.5,301.5 L433.9,301.5 L435.3,301.5 L436.8,301.5 L438.2,301.4 L439.6,301.4 L441.0,301.2 L442.5,301.4 L443.9,301.3 L445.3,301.4 L446.7,301.3 L448.1,301.4 L449.6,301.5 L451.0,301.3 L452.4,301.3 L453.8,301.3 L455.3,301.5 L456.7,301.6 L458.1,301.5 L459.5,301.4 L460.9,301.6 L462.4,301.2 L463.8,301.6 L465.2,301.3 L466.6,301.1 L468.0,301.7 L469.5,301.6 L470.9,301.3 L472.3,301.4 L473.7,301.3 L475.2,301.3 L476.6,301.0 L478.0,301.1 L479.4,301.1 L480.8,301.0 L482.3,301.0 L483.7,300.7 L485.1,300.9 L486.5,300.3 L488.0,300.3 L489.4,299.9 L490.8,299.9 L492.2,300.0 L493.6,299.6 L495.1,299.7 L496.5,299.5 L497.9,299.2 L499.3,299.2 L500.7,299.1 L502.2,299.0 L503.6,299.1 L505.0,299.0 L506.4,298.8 L507.9,298.7 L509.3,298.8 L510.7,298.7 L512.1,298.8 L513.5,298.9 L515.0,298.7 L516.4,298.5 L517.8,298.5 L519.2,298.3 L520.7,298.3 L522.1,298.2 L523.5,298.2 L524.9,298.1 L526.3,298.2 L527.8,298.0 L529.2,297.9 L530.6,297.6 L532.0,297.8 L533.4,297.4 L534.9,297.3 L536.3,297.0 L537.7,296.7 L539.1,296.2 L540.6,295.9 L542.0,295.7 L543.4,294.7 L544.8,294.2 L546.2,293.5 L547.7,292.5 L549.1,291.5 L550.5,290.4 L551.9,288.8 L553.4,287.4 L554.8,285.4 L556.2,283.2 L557.6,280.4 L559.0,277.3 L560.5,273.1 L561.9,267.5 L563.3,260.2 L564.7,254.1 L566.2,248.4 L567.6,243.0 L569.0,236.8 L570.4,233.2 L571.8,234.8 L573.3,239.6 L574.7,244.3 L576.1,248.7 L577.5,253.2 L578.9,257.6 L580.4,264.1 L581.8,270.0 L583.2,275.2 L584.6,279.6 L586.1,282.4 L587.5,285.0 L588.9,287.2 L590.3,288.7 L591.7,290.2 L593.2,291.5 L594.6,292.5 L596.0,293.7 L597.4,294.2 L598.9,295.0 L600.3,295.3 L601.7,296.1 L603.1,296.4 L604.5,296.5 L606.0,297.1 L607.4,297.2 L608.8,297.5 L610.2,297.9 L611.6,297.8 L613.1,297.9 L614.5,298.4 L615.9,298.3 L617.3,298.6 L618.8,298.4 L620.2,298.3 L621.6,298.3 L623.0,298.3 L624.4,298.1 L625.9,297.8 L627.3,297.3 L628.7,296.8 L630.1,296.4 L631.6,296.6 L633.0,296.8 L634.4,297.4 L635.8,298.1 L637.2,298.9 L638.7,299.4 L640.1,299.7 L641.5,300.0 L642.9,300.3 L644.3,300.4 L645.8,300.6 L647.2,301.1 L648.6,301.0 L650.0,301.2 L651.5,301.4 L652.9,301.4 L654.3,301.3 L655.7,301.7 L657.1,301.5 L658.6,301.4 L660.0,301.6 L661.4,301.6 L662.8,301.5 L664.3,301.6 L665.7,301.6"/>
<path stroke="#999933" marker-start="url(#m3)" marker-mid="url(#m3)" marker-end="url(#m3)" d="M681.9,300.8 L686.0,300.9 L690.1,300.9 L694.2,301.0 L698.3,300.6 L702.4,300.8 L706.6,300.8 L710.7,300.8 L714.8,300.8 L718.9,300.8 L723.0,300.8 L727.1,300.9 L731.2,300.9 L735.3,301.0 L739.4,300.8 L743.5,300.7 L747.6,300.9 L751.8,300.8 L755.9,301.0 L760.0,300.9 L764.1,300.9 L768.2,300.7 L772.3,300.8 L776.4,301.0 L780.5,300.8 L784.6,300.9 L788.7,300.8 L792.8,300.8 L797.0,300.9 L801.1,300.9 L805.2,300.9 L809.3,300.8 L813.4,301.0 L817.5,300.9 L821.6,300.8 L825.7,300.8 L829.8,301.0 L833.9,300.9 L838.0,300.7 L842.2,300.9 L846.3,300.9 L850.4,300.6 L854.5,300.6 L858.6,300.9 L862.7,300.8 L866.8,300.9 L870.9,300.9 L875.0,300.8 L879.1,300.6 L883.2,300.8 L887.3,300.7 L891.5,300.9 L895.6,300.8 L899.7,300.7 L903.8,300.8 L907.9,300.7 L912.0,300.7 L916.1,300.8 L920.2,300.7 L924.3,300.7 L928.4,300.6 L932.5,300.9 L936.7,300.9 L940.8,300.7 L944.9,300.7 L949.0,300.5 L953.1,300.6 L957.2,300.6 L961.3,300.5 L965.4,300.5 L969.5,300.5 L973.6,300.3 L977.7,300.3 L981.9,299.8 L986.0,299.6 L990.1,299.5 L994.2,299.1 L998.3,298.8 L1002.4,298.2 L1006.5,297.7 L1010.6,297.5 L1014.7,297.1 L1018.8,296.4 L1022.9,296.2 L1027.1,295.5 L1031.2,294.9 L1035.3,294.0 L1039.4,292.9 L1043.5,291.7 L1047.6,290.0 L1051.7,288.4 L1055.8,286.7 L1059.9,284.9 L1064.0,283.6 L1068.1,282.5 L1072.3,282.2 L1076.4,281.6 L1080.5,281.6 L1084.6,281.4 L1088.7,281.8 L1092.8,282.3 L1096.9,283.7 L1101.0,284.8 L1105.1,285.8 L1109.2,287.0 L1113.3,288.2 L1117.5,289.2 L1121.6,290.1 L1125.7,291.3 L1129.8,291.8 L1133.9,292.6 L1138.0,293.3 L1142.1,294.2 L1146.2,294.8 L1150.3,295.3 L1154.4,296.0 L1158.5,296.7 L1162.7,297.1 L1166.8,297.7 L1170.9,298.2 L1175.0,298.6 L1179.1,298.9 L1183.2,299.2 L1187.3,299.4 L1191.4,299.7 L1195.5,299.9 L1199.6,299.9 L1203.7,300.2 L1207.9,300.4 L1212.0,300.5 L1216.1,300.5 L1220.2,300.5 L1224.3,300.7 L1228.4,300.7 L1232.5,300.8 L1236.6,300.8 L1240.7,300.7 L1244.8,300.8 L1248.9,300.8 L1253.1,301.0 L1257.2,300.8 L1261.3,300.7 L1265.4,301.0 L1269.5,300.9 L1273.6,300.8 L1277.7,300.8 L1281.8,300.8 L1285.9,300.9 L1290.0,300.6 L1294.1,301.1 L1298.2,300.8 L1302.4,300.9 L1306.5,300.9 L1310.6,300.9 L1314.7,300.6 L1318.8,300.8 L1322.9,300.8 L1327.0,300.9 L1331.1,301.0 L1335.2,300.9 L1339.3,300.8 L1343.4,300.9 L1347.6,300.9"/>
<path stroke="#117733" marker-start="url(#m4)" marker-mid="url(#m4)" marker-end="url(#m4)" d="M99.8,301.5 L101.2,301.8 L102.6,301.8 L104.1,301.7 L105.5,301.6 L106.9,301.7 L108.3,301.8 L109.8,301.8 L111.2,301.6 L112.6,301.9 L114.0,301.6 L115.4,301.8 L116.9,301.9 L118.3,301.7 L119.7,301.7 L121.1,301.9 L122.5,301.7 L124.0,301.7 L125.4,301.8 L126.8,301.9 L128.2,301.5 L129.7,301.7 L131.1,301.7 L132.5,301.6 L133.9,301.7 L135.3,301.7 L136.8,301.8 L138.2,301.7 L139.6,301.8 L141.0,301.8 L142.5,301.7 L143.9,301.8 L145.3,302.0 L146.7,301.8 L148.1,301.7 L149.6,301.8 L151.0,301.7 L152.4,301.8 L153.8,301.9 L155.3,301.7 L156.7,301.8 L158.1,301.9 L159.5,301.7 L160.9,301.8 L162.4,301.6 L163.8,301.7 L165.2,301.7 L166.6,302.0 L168.0,301.7 L169.5,301.7 L170.9,301.7 L172.3,301.7 L173.7,301.8 L175.2,301.8 L176.6,302.0 L178.0,301.8 L179.4,301.9 L180.8,301.8 L182.3,301.8 L183.7,301.6 L185.1,301.7 L186.5,301.7 L188.0,301.7 L189.4,301.5 L190.8,301.8 L192.2,301.7 L193.6,301.7 L195.1,301.7 L196.5,301.7 L197.9,301.7 L199.3,301.5 L200.7,301.5 L202.2,301.6 L203.6,301.5 L205.0,301.4 L206.4,301.3 L207.9,301.2 L209.3,301.2 L210.7,301.3 L212.1,300.9 L213.5,301.1 L215.0,300.9 L216.4,300.7 L217.8,300.7 L219.2,300.4 L220.7,300.3 L222.1,300.3 L223.5,300.4 L224.9,300.5 L226.3,300.5 L227.8,300.7 L229.2,300.5 L230.6,300.9 L232.0,300.8 L233.4,301.0 L234.9,301.1 L236.3,301.1 L237.7,301.2 L239.1,301.3 L240.6,301.5 L242.0,301.6 L243.4,301.6 L244.8,301.5 L246.2,301.6 L247.7,301.6 L249.1,301.7 L250.5,301.5 L251.9,301.9 L253.4,301.7 L254.8,301.6 L256.2,301.8 L257.6,301.9 L259.0,301.8 L260.5,301.9 L261.9,301.8 L263.3,301.9 L264.7,301.9 L266.2,301.7 L267.6,301.9 L269.0,301.8 L270.4,301.8 L271.8,301.6 L273.3,301.7 L274.7,301.9 L276.1,301.6 L277.5,301.8 L278.9,301.8 L280.4,301.8 L281.8,301.5 L283.2,301.8 L284.6,301.8 L286.1,301.7 L287.5,301.8 L288.9,301.5 L290.3,301.8 L291.7,301.7 L293.2,301.9 L294.6,301.5 L296.0,301.8 L297.4,301.7 L298.9,301.9 L300.3,301.7 L301.7,301.7 L303.1,302.0 L304.5,301.7 L306.0,301.7 L307.4,301.7 L308.8,301.6 L310.2,301.9 L311.6,302.0 L313.1,301.7 L314.5,301.6 L315.9,301.9 L317.3,301.9 L318.8,301.9 L320.2,301.9 L321.6,301.7 L323.0,301.7 L324.4,301.6 L325.9,301.6 L327.3,301.9 L328.7,301.7 L330.1,302.0 L331.6,301.8 L333.0,301.7 L334.4,301.9 L335.8,302.0 L337.2,301.8 L338.7,301.6 L340.1,301.8 L341.5,301.9 L342.9,301.7 L344.3,301.7 L345.8,301.9 L347.2,301.8 L348.6,301.6 L350.0,301.7 L351.5,301.7 L352.9,301.8 L354.3,301.8 L355.7,301.9 L357.1,301.8 L358.6,301.6 L360.0,301.8 L361.4,301.9 L362.8,301.8 L364.3,301.9 L365.7,301.7 L367.1,301.6 L368.5,301.9 L369.9,301.6 L371.4,301.5 L372.8,301.9 L374.2,301.7 L375.6,301.7 L377.1,301.6 L378.5,301.6 L379.9,301.6 L381.3,301.7 L382.7,301.8 L384.2,301.5 L385.6,301.8 L387.0,301.6 L388.4,301.6 L389.8,301.8 L391.3,301.7 L392.7,301.6 L394.1,302.0 L395.5,301.6 L397.0,301.8 L398.4,301.8 L399.8,301.9 L401.2,301.7 L402.6,301.9 L404.1,301.6 L405.5,301.9 L406.9,301.6 L408.3,301.7 L409.8,302.0 L411.2,301.8 L412.6,301.7 L414.0,302.0 L415.4,301.8 L416.9,301.6 L418.3,301.8 L419.7,301.6 L421.1,301.9 L422.5,301.9 L424.0,301.6 L425.4,301.6 L426.8,301.7 L428.2,301.7 L429.7,301.6 L431.1,301.8 L432.5,301.5 L433.9,301.7 L435.3,301.7 L436.8,301.7 L438.2,301.7 L439.6,301.6 L441.0,301.8 L442.5,301.7 L443.9,301.6 L445.3,301.5 L446.7,301.5 L448.1,301.7 L449.6,301.6 L451.0,301.7 L452.4,301.8 L453.8,301.8 L455.3,301.9 L456.7,301.6 L458.1,301.5 L459.5,301.8 L460.9,301.7 L462.4,301.8 L463.8,301.7 L465.2,301.8 L466.6,301.7 L468.0,301.7 L469.5,301.7 L470.9,301.7 L472.3,301.7 L473.7,301.6 L475.2,301.7 L476.6,301.6 L478.0,301.8 L479.4,301.6 L480.8,301.7 L482.3,301.6 L483.7,301.6 L485.1,301.8 L486.5,301.5 L488.0,301.4 L489.4,301.5 L490.8,301.5 L492.2,301.8 L493.6,301.6 L495.1,301.6 L496.5,301.4 L497.9,301.5 L499.3,301.6 L500.7,301.7 L502.2,301.4 L503.6,301.5 L505.0,301.5 L506.4,301.3 L507.9,301.4 L509.3,301.4 L510.7,301.1 L512.1,301.4 L513.5,301.4 L515.0,301.3 L516.4,301.1 L517.8,301.4 L519.2,301.3 L520.7,301.3 L522.1,301.3 L523.5,301.1 L524.9,301.2 L526.3,301.0 L527.8,301.0 L529.2,301.0 L530.6,300.9 L532.0,301.0 L533.4,300.8 L534.9,300.7 L536.3,300.7 L537.7,300.6 L539.1,300.4 L540.6,300.4 L542.0,300.3 L543.4,300.1 L544.8,300.0 L546.2,299.8 L547.7,299.9 L549.1,299.5 L550.5,299.1 L551.9,298.7 L553.4,298.5 L554.8,297.7 L556.2,296.9 L557.6,296.1 L559.0,295.1 L560.5,294.0 L561.9,292.4 L563.3,291.0 L564.7,288.9 L566.2,287.1 L567.6,284.7 L569.0,282.9 L570.4,280.6 L571.8,278.7 L573.3,277.4 L574.7,276.5 L576.1,276.1 L577.5,277.2 L578.9,279.2 L580.4,282.0 L581.8,284.9 L583.2,287.7 L584.6,290.2 L586.1,292.4 L587.5,294.2 L588.9,295.9 L590.3,297.2 L591.7,297.7 L593.2,298.6 L594.6,299.1 L596.0,299.6 L597.4,299.7 L598.9,300.0 L600.3,300.1 L601.7,300.5 L603.1,300.5 L604.5,300.6 L606.0,300.8 L607.4,300.8 L608.8,300.7 L610.2,301.1 L611.6,301.1 L613.1,301.1 L614.5,301.3 L615.9,301.3 L617.3,301.1 L618.8,301.2 L620.2,301.5 L621.6,301.5 L623.0,301.3 L624.4,301.2 L625.9,301.3 L627.3,301.4 L628.7,301.3 L630.1,301.5 L631.6,301.3 L633.0,301.3 L634.4,301.6 L635.8,301.4 L637.2,301.5 L638.7,301.6 L640.1,301.7 L641.5,301.5 L642.9,301.6 L644.3,301.5 L645.8,301.8 L647.2,301.7 L648.6,301.5 L650.0,301.6 L651.5,301.7 L652.9,301.7 L654.3,301.9 L655.7,301.8 L657.1,301.6 L658.6,301.6 L660.0,301.5 L661.4,301.7 L662.8,301.7 L664.3,302.0 L665.7,301.7"/>
<path stroke="#117733" marker-start="url(#m4)" marker-mid="url(#m4)" marker-end="url(#m4)" d="M681.9,301.3 L686.0,301.0 L690.1,300.9 L694.2,301.0 L698.3,301.1 L702.4,301.2 L706.6,301.1 L710.7,301.1 L714.8,300.9 L718.9,301.1 L723.0,301.2 L727.1,300.9 L731.2,300.9 L735.3,300.9 L739.4,301.0 L743.5,301.0 L747.6,301.2 L751.8,301.1 L755.9,301.1 L760.0,301.0 L764.1,300.9 L768.2,301.0 L772.3,301.0 L776.4,301.2 L780.5,301.0 L784.6,301.1 L788.7,301.0 L792.8,301.1 L797.0,300.9 L801.1,300.8 L805.2,301.1 L809.3,301.1 L813.4,300.8 L817.5,300.9 L821.6,301.0 L825.7,301.1 L829.8,300.9 L833.9,301.2 L838.0,301.0 L842.2,301.0 L846.3,301.0 L850.4,301.1 L854.5,301.0 L858.6,301.1 L862.7,300.9 L866.8,301.0 L870.9,301.0 L875.0,301.2 L879.1,301.0 L883.2,301.0 L887.3,301.1 L891.5,300.9 L895.6,301.0 L899.7,301.0 L903.8,300.9 L907.9,300.9 L912.0,301.0 L916.1,300.8 L920.2,300.9 L924.3,300.7 L928.4,300.7 L932.5,301.0 L936.7,300.9 L940.8,301.0 L944.9,300.9 L949.0,300.7 L953.1,301.0 L957.2,300.9 L961.3,300.8 L965.4,300.9 L969.5,300.6 L973.6,300.7 L977.7,300.9 L981.9,300.7 L986.0,300.9 L990.1,300.9 L994.2,300.7 L998.3,300.7 L1002.4,300.7 L1006.5,300.7 L1010.6,300.8 L1014.7,300.7 L1018.8,300.8 L1022.9,300.7 L1027.1,300.8 L1031.2,300.5 L1035.3,300.2 L1039.4,299.9 L1043.5,299.7 L1047.6,299.3 L1051.7,299.1 L1055.8,298.7 L1059.9,298.4 L1064.0,297.9 L1068.1,297.4 L1072.3,297.1 L1076.4,296.6 L1080.5,296.0 L1084.6,295.4 L1088.7,294.5 L1092.8,293.5 L1096.9,292.4 L1101.0,291.3 L1105.1,289.9 L1109.2,288.5 L1113.3,286.9 L1117.5,285.4 L1121.6,284.0 L1125.7,283.0 L1129.8,282.1 L1133.9,281.9 L1138.0,282.3 L1142.1,282.6 L1146.2,283.6 L1150.3,285.2 L1154.4,286.4 L1158.5,287.8 L1162.7,289.3 L1166.8,290.4 L1170.9,291.3 L1175.0,292.3 L1179.1,292.8 L1183.2,293.7 L1187.3,294.8 L1191.4,295.4 L1195.5,296.0 L1199.6,296.5 L1203.7,297.3 L1207.9,297.8 L1212.0,298.3 L1216.1,298.8 L1220.2,299.3 L1224.3,299.7 L1228.4,299.9 L1232.5,300.1 L1236.6,300.2 L1240.7,300.4 L1244.8,300.7 L1248.9,300.5 L1253.1,300.5 L1257.2,300.6 L1261.3,300.8 L1265.4,301.0 L1269.5,301.0 L1273.6,300.9 L1277.7,300.9 L1281.8,301.1 L1285.9,301.0 L1290.0,301.0 L1294.1,300.9 L1298.2,301.0 L1302.4,301.1 L1306.5,300.9 L1310.6,300.9 L1314.7,301.0 L1318.8,300.8 L1322.9,301.0 L1327.0,301.1 L1331.1,301.0 L1335.2,301.0 L1339.3,301.1 L1343.4,301.0 L1347.6,300.9"/>
<path stroke="#44AA99" marker-start="url(#m5)" marker-mid="url(#m5)" marker-end="url(#m5)" d="M99.8,301.5 L101.2,301.7 L102.6,301.8 L104.1,301.6 L105.5,301.6 L106.9,301.7 L108.3,301.8 L109.8,301.7 L111.2,301.6 L112.6,301.8 L114.0,301.7 L115.4,301.7 L116.9,301.6 L118.3,301.6 L119.7,301.8 L121.1,301.5 L122.5,301.7 L124.0,301.8 L125.4,301.7 L126.8,301.8 L128.2,301.6 L129.7,301.9 L131.1,301.9 L132.5,301.8 L133.9,301.5 L135.3,301.6 L136.8,301.9 L138.2,301.9 L139.6,301.8 L141.0,301.9 L142.5,301.7 L143.9,301.7 L145.3,301.7 L146.7,301.8 L148.1,301.6 L149.6,301.9 L151.0,301.9 L152.4,301.6 L153.8,301.6 L155.3,301.8 L156.7,301.7 L158.1,301.5 L159.5,301.8 L160.9,301.8 L162.4,301.7 L163.8,302.0 L165.2,301.8 L166.6,301.6 L168.0,301.7 L169.5,301.6 L170.9,301.6 L172.3,301.8 L173.7,301.7 L175.2,301.7 L176.6,301.9 L178.0,301.8 L179.4,301.8 L180.8,301.8 L182.3,301.8 L183.7,301.9 L185.1,301.7 L186.5,302.0 L188.0,301.6 L189.4,301.7 L190.8,301.6 L192.2,301.7 L193.6,301.8 L195.1,301.9 L196.5,301.7 L197.9,301.7 L199.3,301.7 L200.7,301.6 L202.2,301.6 L203.6,301.7 L205.0,301.5 L206.4,301.7 L207.9,301.7 L209.3,301.7 L210.7,301.6 L212.1,301.6 L213.5,302.0 L215.0,301.6 L216.4,301.9 L217.8,301.8 L219.2,301.7 L220.7,301.6 L222.1,301.9 L223.5,301.9 L224.9,301.6 L226.3,301.7 L227.8,301.9 L229.2,301.8 L230.6,302.0 L232.0,301.7 L233.4,301.8 L234.9,301.6 L236.3,302.0 L237.7,301.6 L239.1,301.5 L240.6,301.7 L242.0,301.7 L243.4,302.0 L244.8,301.7 L246.2,301.7 L247.7,301.8 L249.1,301.9 L250.5,301.7 L251.9,301.9 L253.4,301.8 L254.8,301.7 L256.2,301.7 L257.6,301.7 L259.0,301.6 L260.5,301.9 L261.9,301.6 L263.3,301.9 L264.7,301.8 L266.2,301.7 L267.6,301.6 L269.0,301.7 L270.4,301.8 L271.8,301.8 L273.3,301.8 L274.7,301.8 L276.1,301.7 L277.5,301.8 L278.9,301.5 L280.4,301.8 L281.8,301.7 L283.2,301.7 L284.6,301.9 L286.1,301.8 L287.5,301.4 L288.9,301.7 L290.3,301.6 L291.7,301.9 L293.2,302.0 L294.6,301.7 L296.0,301.7 L297.4,301.7 L298.9,301.8 L300.3,301.8 L301.7,301.9 L303.1,301.6 L304.5,301.9 L306.0,301.6 L307.4,301.8 L308.8,301.9 L310.2,301.8 L311.6,301.6 L313.1,301.6 L314.5,301.7 L315.9,301.7 L317.3,301.9 L318.8,301.6 L320.2,301.8 L321.6,301.8 L323.0,301.8 L324.4,301.8 L325.9,301.9 L327.3,301.8 L328.7,301.8 L330.1,301.8 L331.6,301.9 L333.0,301.5 L334.4,301.9 L335.8,301.7 L337.2,301.7 L338.7,301.6 L340.1,301.5 L341.5,301.7 L342.9,301.6 L344.3,301.8 L345.8,301.5 L347.2,301.9 L348.6,301.7 L350.0,301.7 L351.5,301.6 L352.9,301.6 L354.3,301.6 L355.7,301.6 L357.1,301.7 L358.6,301.7 L360.0,301.5 L361.4,301.7 L362.8,301.6 L364.3,301.7 L365.7,301.9 L367.1,301.8 L368.5,301.7 L369.9,301.5 L371.4,301.5 L372.8,301.5 L374.2,301.8 L375.6,301.6 L377.1,301.7 L378.5,301.6 L379.9,301.7 L381.3,301.9 L382.7,301.6 L384.2,301.7 L385.6,301.6 L387.0,301.8 L388.4,301.6 L389.8,301.6 L391.3,301.5 L392.7,301.5 L394.1,301.7 L395.5,302.0 L397.0,301.6 L398.4,301.8 L399.8,301.7 L401.2,301.6 L402.6,301.6 L404.1,301.7 L405.5,301.6 L406.9,301.9 L408.3,301.4 L409.8,301.7 L411.2,301.7 L412.6,301.6 L414.0,301.7 L415.4,301.8 L416.9,301.7 L418.3,301.7 L419.7,301.7 L421.1,301.4 L422.5,301.8 L424.0,301.9 L425.4,301.8 L426.8,301.8 L428.2,301.5 L429.7,301.6 L431.1,301.6 L432.5,301.6 L433.9,301.8 L435.3,301.6 L436.8,301.6 L438.2,301.4 L439.6,301.6 L441.0,301.6 L442.5,301.6 L443.9,301.5 L445.3,301.9 L446.7,301.5 L448.1,301.5 L449.6,301.5 L451.0,301.8 L452.4,301.9 L453.8,301.7 L455.3,301.5 L456.7,301.6 L458.1,301.7 L459.5,301.5 L460.9,301.8 L462.4,301.8 L463.8,301.6 L465.2,301.7 L466.6,301.7 L468.0,301.8 L469.5,301.4 L470.9,301.7 L472.3,301.5 L473.7,301.5 L475.2,301.6 L476.6,301.5 L478.0,301.4 L479.4,301.3 L480.8,301.4 L482.3,301.7 L483.7,301.8 L485.1,301.6 L486.5,301.6 L488.0,301.4 L489.4,301.5 L490.8,301.5 L492.2,301.3 L493.6,301.3 L495.1,301.5 L496.5,301.4 L497.9,301.3 L499.3,301.5 L500.7,301.4 L502.2,301.5 L503.6,301.4 L505.0,301.3 L506.4,301.4 L507.9,301.3 L509.3,301.2 L510.7,301.2 L512.1,301.4 L513.5,301.3 L515.0,301.4 L516.4,301.0 L517.8,301.1 L519.2,301.1 L520.7,301.2 L522.1,301.0 L523.5,301.0 L524.9,301.1 L526.3,301.0 L527.8,300.8 L529.2,301.1 L530.6,301.0 L532.0,300.7 L533.4,300.8 L534.9,300.6 L536.3,300.7 L537.7,300.5 L539.1,300.4 L540.6,300.3 L542.0,300.2 L543.4,300.2 L544.8,300.0 L546.2,299.9 L547.7,299.6 L549.1,299.1 L550.5,299.3 L551.9,298.8 L553.4,298.8 L554.8,298.6 L556.2,298.1 L557.6,297.5 L559.0,297.0 L560.5,296.3 L561.9,295.5 L563.3,294.5 L564.7,293.4 L566.2,292.3 L567.6,290.6 L569.0,289.0 L570.4,286.8 L571.8,284.8 L573.3,282.6 L574.7,280.8 L576.1,279.3 L577.5,278.5 L578.9,278.6 L580.4,279.5 L581.8,281.4 L583.2,283.1 L584.6,285.1 L586.1,287.4 L587.5,289.2 L588.9,290.8 L590.3,292.2 L591.7,293.8 L593.2,294.7 L594.6,295.6 L596.0,296.3 L597.4,296.8 L598.9,297.3 L600.3,298.0 L601.7,298.4 L603.1,298.7 L604.5,298.8 L606.0,299.1 L607.4,299.4 L608.8,299.5 L610.2,299.9 L611.6,300.1 L613.1,300.4 L614.5,300.3 L615.9,300.2 L617.3,300.3 L618.8,300.1 L620.2,300.5 L621.6,300.6 L623.0,300.8 L624.4,300.8 L625.9,300.9 L627.3,300.9 L628.7,301.0 L630.1,301.1 L631.6,300.9 L633.0,301.0 L634.4,300.9 L635.8,301.3 L637.2,301.3 L638.7,301.3 L640.1,301.0 L641.5,301.2 L642.9,301.2 L644.3,301.3 L645.8,301.3 L647.2,301.4 L648.6,301.3 L650.0,301.4 L651.5,301.4 L652.9,301.3 L654.3,301.4 L655.7,301.3 L657.1,301.5 L658.6,301.4 L660.0,301.5 L661.4,301.4 L662.8,301.3 L664.3,301.6 L665.7,301.3"/>
<path stroke="#44AA99" marker-start="url(#m5)" marker-mid="url(#m5)" marker-end="url(#m5)" d="M681.9,300.9 L686.0,300.7 L690.1,300.8 L694.2,300.9 L698.3,300.7 L702.4,300.9 L706.6,300.9 L710.7,301.0 L714.8,300.8 L718.9,301.0 L723.0,301.0 L727.1,300.8 L731.2,300.8 L735.3,300.9 L739.4,300.9 L743.5,301.0 L747.6,300.8 L751.8,300.8 L755.9,300.8 L760.0,300.6 L764.1,300.8 L768.2,300.8 L772.3,300.7 L776.4,301.1 L780.5,300.9 L784.6,300.8 L788.7,300.9 L792.8,300.8 L797.0,300.8 L801.1,300.9 L805.2,300.7 L809.3,300.8 L813.4,300.9 L817.5,300.8 L821.6,300.9 L825.7,300.9 L829.8,300.7 L833.9,300.8 L838.0,300.9 L842.2,300.8 L846.3,300.9 L850.4,300.8 L854.5,300.7 L858.6,300.9 L862.7,300.8 L866.8,300.6 L870.9,301.0 L875.0,300.8 L879.1,300.8 L883.2,300.6 L887.3,300.8 L891.5,300.8 L895.6,300.6 L899.7,300.8 L903.8,300.6 L907.9,300.9 L912.0,300.8 L916.1,300.9 L920.2,300.9 L924.3,300.7 L928.4,300.5 L932.5,300.9 L936.7,300.7 L940.8,300.6 L944.9,300.8 L949.0,300.7 L953.1,300.9 L957.2,300.8 L961.3,300.6 L965.4,300.7 L969.5,300.7 L973.6,300.8 L977.7,300.7 L981.9,300.9 L986.0,300.8 L990.1,300.9 L994.2,300.8 L998.3,300.7 L1002.4,300.7 L1006.5,300.6 L1010.6,300.6 L1014.7,300.7 L1018.8,300.7 L1022.9,300.7 L1027.1,300.7 L1031.2,300.6 L1035.3,300.6 L1039.4,300.6 L1043.5,300.4 L1047.6,300.5 L1051.7,300.5 L1055.8,300.4 L1059.9,300.3 L1064.0,299.9 L1068.1,299.9 L1072.3,299.8 L1076.4,299.4 L1080.5,299.1 L1084.6,298.8 L1088.7,298.6 L1092.8,298.2 L1096.9,297.7 L1101.0,297.6 L1105.1,296.7 L1109.2,296.3 L1113.3,295.5 L1117.5,294.2 L1121.6,293.1 L1125.7,291.6 L1129.8,290.0 L1133.9,288.4 L1138.0,286.5 L1142.1,284.8 L1146.2,283.7 L1150.3,282.8 L1154.4,282.3 L1158.5,282.0 L1162.7,281.8 L1166.8,282.0 L1170.9,282.9 L1175.0,284.1 L1179.1,285.7 L1183.2,287.1 L1187.3,288.7 L1191.4,290.2 L1195.5,291.2 L1199.6,292.4 L1203.7,293.7 L1207.9,294.6 L1212.0,295.5 L1216.1,296.2 L1220.2,297.2 L1224.3,297.6 L1228.4,298.3 L1232.5,298.5 L1236.6,299.1 L1240.7,299.3 L1244.8,299.7 L1248.9,300.0 L1253.1,300.2 L1257.2,300.4 L1261.3,300.5 L1265.4,300.5 L1269.5,300.5 L1273.6,300.6 L1277.7,300.8 L1281.8,300.7 L1285.9,300.6 L1290.0,300.9 L1294.1,300.9 L1298.2,300.7 L1302.4,300.9 L1306.5,300.8 L1310.6,300.7 L1314.7,300.9 L1318.8,300.7 L1322.9,300.9 L1327.0,300.8 L1331.1,300.7 L1335.2,300.9 L1339.3,300.8 L1343.4,300.8 L1347.6,300.9"/>
<path stroke="#88CCEE" marker-start="url(#m6)" marker-mid="url(#m6)" marker-end="url(#m6)" d="M99.8,301.9 L101.2,301.8 L102.6,301.6 L104.1,301.7 L105.5,301.7 L106.9,301.7 L108.3,301.7 L109.8,301.9 L111.2,301.8 L112.6,301.8 L114.0,301.7 L115.4,301.8 L116.9,301.7 L118.3,301.8 L119.7,301.9 L121.1,301.8 L122.5,301.7 L124.0,301.7 L125.4,301.8 L126.8,301.8 L128.2,301.8 L129.7,301.7 L131.1,301.9 L132.5,302.1 L133.9,301.8 L135.3,301.8 L136.8,301.8 L138.2,301.5 L139.6,301.8 L141.0,301.7 L142.5,302.0 L143.9,301.8 L145.3,301.7 L146.7,301.8 L148.1,301.8 L149.6,301.7 L151.0,301.8 L152.4,301.6 L153.8,301.8 L155.3,301.9 L156.7,302.0 L158.1,301.9 L159.5,301.8 L160.9,301.9 L162.4,301.9 L163.8,302.0 L165.2,301.9 L166.6,301.8 L168.0,301.8 L169.5,301.8 L170.9,301.8 L172.3,301.8 L173.7,301.7 L175.2,301.5 L176.6,301.7 L178.0,301.5 L179.4,301.8 L180.8,301.8 L182.3,301.6 L183.7,301.9 L185.1,301.9 L186.5,301.8 L188.0,302.0 L189.4,302.0 L190.8,301.6 L192.2,301.9 L193.6,301.8 L195.1,301.8 L196.5,301.9 L197.9,301.7 L199.3,301.7 L200.7,301.7 L202.2,301.7 L203.6,301.8 L205.0,301.6 L206.4,301.7 L207.9,301.9 L209.3,301.8 L210.7,301.8 L212.1,301.6 L213.5,301.7 L215.0,301.7 L216.4,301.8 L217.8,301.7 L219.2,301.9 L220.7,301.8 L222.1,301.8 L223.5,301.8 L224.9,301.9 L226.3,301.7 L227.8,301.9 L229.2,301.8 L230.6,301.8 L232.0,301.8 L233.4,301.8 L234.9,301.9 L236.3,301.9 L237.7,301.8 L239.1,301.9 L240.6,301.8 L242.0,301.9 L243.4,301.8 L244.8,301.5 L246.2,301.9 L247.7,301.8 L249.1,301.6 L250.5,301.8 L251.9,301.7 L253.4,302.0 L254.8,301.8 L256.2,301.6 L257.6,301.8 L259.0,301.7 L260.5,302.0 L261.9,301.7 L263.3,301.5 L264.7,301.8 L266.2,301.7 L267.6,301.7 L269.0,301.5 L270.4,301.8 L271.8,302.0 L273.3,301.6 L274.7,301.9 L276.1,301.7 L277.5,302.1 L278.9,301.8 L280.4,301.8 L281.8,301.9 L283.2,301.8 L284.6,301.7 L286.1,301.9 L287.5,301.7 L288.9,301.6 L290.3,302.0 L291.7,301.7 L293.2,301.7 L294.6,301.8 L296.0,301.6 L297.4,301.6 L298.9,301.7 L300.3,301.7 L301.7,301.8 L303.1,301.9 L304.5,301.7 L306.0,301.8 L307.4,301.8 L308.8,301.6 L310.2,301.8 L311.6,301.7 L313.1,301.9 L314.5,301.8 L315.9,301.8 L317.3,301.6 L318.8,301.8 L320.2,301.7 L321.6,301.9 L323.0,301.8 L324.4,301.7 L325.9,301.9 L327.3,301.9 L328.7,301.7 L330.1,301.9 L331.6,301.7 L333.0,301.7 L334.4,301.8 L335.8,301.7 L337.2,301.7 L338.7,301.7 L340.1,302.0 L341.5,301.9 L342.9,301.7 L344.3,302.0 L345.8,301.8 L347.2,301.8 L348.6,301.9 L350.0,301.8 L351.5,302.1 L352.9,301.8 L354.3,301.6 L355.7,301.9 L357.1,301.7 L358.6,301.7 L360.0,301.4 L361.4,301.9 L362.8,301.9 L364.3,301.9 L365.7,301.9 L367.1,302.0 L368.5,301.8 L369.9,301.9 L371.4,301.7 L372.8,301.7 L374.2,301.9 L375.6,301.8 L377.1,301.6 L378.5,301.8 L379.9,301.7 L381.3,301.7 L382.7,301.8 L384.2,301.7 L385.6,301.6 L387.0,301.6 L388.4,302.0 L389.8,301.6 L391.3,301.8 L392.7,301.8 L394.1,301.8 L395.5,301.6 L397.0,301.7 L398.4,301.8 L399.8,301.8 L401.2,301.7 L402.6,301.6 L404.1,301.9 L405.5,301.9 L406.9,301.8 L408.3,301.7 L409.8,301.8 L411.2,301.7 L412.6,301.8 L414.0,301.6 L415.4,301.7 L416.9,301.7 L418.3,301.6 L419.7,301.8 L421.1,301.7 L422.5,301.7 L424.0,301.8 L425.4,301.6 L426.8,301.7 L428.2,301.8 L429.7,301.7 L431.1,301.8 L432.5,301.6 L433.9,301.5 L435.3,301.7 L436.8,301.8 L438.2,302.0 L439.6,301.8 L441.0,301.6 L442.5,301.8 L443.9,301.6 L445.3,301.5 L446.7,302.0 L448.1,301.7 L449.6,301.8 L451.0,301.8 L452.4,301.9 L453.8,301.7 L455.3,301.8 L456.7,301.5 L458.1,301.5 L459.5,301.8 L460.9,301.8 L462.4,301.7 L463.8,301.7 L465.2,301.7 L466.6,301.6 L468.0,301.8 L469.5,301.7 L470.9,301.7 L472.3,301.7 L473.7,301.7 L475.2,301.7 L476.6,301.7 L478.0,301.5 L479.4,301.7 L480.8,301.9 L482.3,301.5 L483.7,301.6 L485.1,301.7 L486.5,301.7 L488.0,301.6 L489.4,301.4 L490.8,301.6 L492.2,301.4 L493.6,301.4 L495.1,301.6 L496.5,301.5 L497.9,301.6 L499.3,301.9 L500.7,301.6 L502.2,301.5 L503.6,301.3 L505.0,301.3 L506.4,301.3 L507.9,301.3 L509.3,301.2 L510.7,301.3 L512.1,301.3 L513.5,301.2 L515.0,301.1 L516.4,301.1 L517.8,301.3 L519.2,301.2 L520.7,301.3 L522.1,301.2 L523.5,301.0 L524.9,301.1 L526.3,300.8 L527.8,301.2 L529.2,301.0 L530.6,300.8 L532.0,300.6 L533.4,300.7 L534.9,300.3 L536.3,300.4 L537.7,300.4 L539.1,300.2 L540.6,300.0 L542.0,299.9 L543.4,299.4 L544.8,299.3 L546.2,298.8 L547.7,298.4 L549.1,298.0 L550.5,297.3 L551.9,297.0 L553.4,295.9 L554.8,295.4 L556.2,294.1 L557.6,293.3 L559.0,291.9 L560.5,290.8 L561.9,289.8 L563.3,288.6 L564.7,287.3 L566.2,286.7 L567.6,285.7 L569.0,285.3 L570.4,285.3 L571.8,285.8 L573.3,286.7 L574.7,288.7 L576.1,290.4 L577.5,292.1 L578.9,293.7 L580.4,295.0 L581.8,296.3 L583.2,297.6 L584.6,298.3 L586.1,298.8 L587.5,299.4 L588.9,300.1 L590.3,300.1 L591.7,300.3 L593.2,300.7 L594.6,300.8 L596.0,300.8 L597.4,300.8 L598.9,300.8 L600.3,300.9 L601.7,301.1 L603.1,301.2 L604.5,301.3 L606.0,301.3 L607.4,301.3 L608.8,301.4 L610.2,301.2 L611.6,301.1 L613.1,301.4 L614.5,301.3 L615.9,301.4 L617.3,301.5 L618.8,301.4 L620.2,301.4 L621.6,301.5 L623.0,301.6 L624.4,301.5 L625.9,301.6 L627.3,301.6 L628.7,301.5 L630.1,301.6 L631.6,301.8 L633.0,301.5 L634.4,301.8 L635.8,301.8 L637.2,301.8 L638.7,301.6 L640.1,301.9 L641.5,301.7 L642.9,301.6 L644.3,301.6 L645.8,301.7 L647.2,301.7 L648.6,301.7 L650.0,301.8 L651.5,301.6 L652.9,301.6 L654.3,301.8 L655.7,301.8 L657.1,301.8 L658.6,301.6 L660.0,301.8 L661.4,301.8 L662.8,301.9 L664.3,301.6 L665.7,301.7"/>
<path stroke="#88CCEE" marker-start="url(#m6)" marker-mid="url(#m6)" marker-end="url(#m6)" d="M681.9,301.1 L686.0,301.1 L690.1,301.0 L694.2,300.9 L698.3,301.1 L702.4,301.1 L706.6,301.0 L710.7,301.1 L714.8,301.0 L718.9,301.0 L723.0,301.1 L727.1,301.0 L731.2,301.0 L735.3,301.3 L739.4,301.1 L743.5,301.0 L747.6,301.0 L751.8,301.1 L755.9,301.2 L760.0,301.2 L764.1,301.2 L768.2,301.1 L772.3,301.0 L776.4,301.1 L780.5,300.8 L784.6,301.1 L788.7,301.0 L792.8,301.2 L797.0,301.2 L801.1,301.1 L805.2,301.1 L809.3,301.0 L813.4,301.0 L817.5,301.0 L821.6,301.0 L825.7,301.1 L829.8,300.9 L833.9,301.0 L838.0,301.0 L842.2,301.2 L846.3,300.9 L850.4,301.0 L854.5,301.0 L858.6,301.2 L862.7,301.0 L866.8,300.9 L870.9,301.1 L875.0,300.9 L879.1,300.8 L883.2,301.0 L887.3,301.0 L891.5,300.9 L895.6,301.1 L899.7,301.0 L903.8,301.1 L907.9,301.2 L912.0,301.0 L916.1,300.6 L920.2,301.0 L924.3,300.9 L928.4,301.1 L932.5,301.1 L936.7,301.0 L940.8,301.1 L944.9,300.9 L949.0,300.9 L953.1,301.0 L957.2,301.0 L961.3,300.9 L965.4,300.9 L969.5,300.9 L973.6,301.1 L977.7,300.9 L981.9,301.0 L986.0,301.0 L990.1,301.0 L994.2,301.0 L998.3,300.8 L1002.4,300.9 L1006.5,301.0 L1010.6,300.9 L1014.7,301.1 L1018.8,300.9 L1022.9,300.9 L1027.1,300.9 L1031.2,300.9 L1035.3,300.9 L1039.4,301.0 L1043.5,300.9 L1047.6,300.9 L1051.7,300.8 L1055.8,300.7 L1059.9,300.8 L1064.0,300.5 L1068.1,300.2 L1072.3,300.0 L1076.4,299.8 L1080.5,299.5 L1084.6,299.0 L1088.7,298.7 L1092.8,298.5 L1096.9,298.1 L1101.0,297.7 L1105.1,297.4 L1109.2,296.7 L1113.3,296.1 L1117.5,295.1 L1121.6,294.2 L1125.7,292.9 L1129.8,291.7 L1133.9,290.1 L1138.0,288.0 L1142.1,286.4 L1146.2,284.9 L1150.3,283.6 L1154.4,282.6 L1158.5,282.1 L1162.7,282.0 L1166.8,281.8 L1170.9,282.0 L1175.0,282.7 L1179.1,283.9 L1183.2,285.8 L1187.3,287.1 L1191.4,288.7 L1195.5,290.0 L1199.6,291.3 L1203.7,292.5 L1207.9,293.5 L1212.0,294.6 L1216.1,295.4 L1220.2,296.2 L1224.3,297.0 L1228.4,297.5 L1232.5,298.1 L1236.6,298.5 L1240.7,299.0 L1244.8,299.3 L1248.9,299.8 L1253.1,299.9 L1257.2,300.2 L1261.3,300.5 L1265.4,300.7 L1269.5,300.8 L1273.6,300.9 L1277.7,301.0 L1281.8,301.1 L1285.9,301.1 L1290.0,301.1 L1294.1,301.0 L1298.2,301.1 L1302.4,301.1 L1306.5,301.2 L1310.6,301.2 L1314.7,300.9 L1318.8,301.0 L1322.9,301.2 L1327.0,301.0 L1331.1,301.2 L1335.2,301.0 L1339.3,300.9 L1343.4,301.1 L1347.6,301.0"/>
<path stroke="#332288" marker-start="url(#m7)" marker-mid="url(#m7)" marker-end="url(#m7)" d="M99.8,301.7 L101.2,301.7 L102.6,301.7 L104.1,301.7 L105.5,301.7 L106.9,301.7 L108.3,301.7 L109.8,301.7 L111.2,301.7 L112.6,301.7 L114.0,301.7 L115.4,301.7 L116.9,301.7 L118.3,301.7 L119.7,301.7 L121.1,301.7 L122.5,301.7 L124.0,301.7 L125.4,301.7 L126.8,301.7 L128.2,301.7 L129.7,301.7 L131.1,301.7 L132.5,301.7 L133.9,301.7 L135.3,301.7 L136.8,301.7 L138.2,301.7 L139.6,301.7 L141.0,301.7 L142.5,301.7 L143.9,301.7 L145.3,301.7 L146.7,301.7 L148.1,301.7 L149.6,301.7 L151.0,301.7 L152.4,301.7 L153.8,301.7 L155.3,301.7 L156.7,301.7 L158.1,301.7 L159.5,301.7 L160.9,301.7 L162.4,301.7 L163.8,301.7 L165.2,301.7 L166.6,301.7 L168.0,301.7 L169.5,301.7 L170.9,301.7 L172.3,301.7 L173.7,301.7 L175.2,301.7 L176.6,301.7 L178.0,301.7 L179.4,301.7 L180.8,301.7 L182.3,301.7 L183.7,301.7 L185.1,301.7 L186.5,301.7 L188.0,301.7 L189.4,301.7 L190.8,301.7 L192.2,301.7 L193.6,301.7 L195.1,301.7 L196.5,301.7 L197.9,301.7 L199.3,301.7 L200.7,301.7 L202.2,301.7 L203.6,301.7 L205.0,301.7 L206.4,301.7 L207.9,301.7 L209.3,301.7 L210.7,301.7 L212.1,301.7 L213.5,301.7 L215.0,301.7 L216.4,301.7 L217.8,301.7 L219.2,301.7 L220.7,301.7 L222.1,301.7 L223.5,301.7 L224.9,301.7 L226.3,301.7 L227.8,301.7 L229.2,301.7 L230.6,301.7 L232.0,301.7 L233.4,301.7 L234.9,301.7 L236.3,301.7 L237.7,301.7 L239.1,301.7 L240.6,301.7 L242.0,301.7 L243.4,301.7 L244.8,301.7 L246.2,301.7 L247.7,301.7 L249.1,301.7 L250.5,301.7 L251.9,301.7 L253.4,301.7 L254.8,301.7 L256.2,301.7 L257.6,301.7 L259.0,301.7 L260.5,301.7 L261.9,301.7 L263.3,301.7 L264.7,301.7 L266.2,301.7 L267.6,301.7 L269.0,301.7 L270.4,301.7 L271.8,301.7 L273.3,301.7 L274.7,301.7 L276.1,301.7 L277.5,301.7 L278.9,301.7 L280.4,301.7 L281.8,301.7 L283.2,301.7 L284.6,301.7 L286.1,301.7 L287.5,301.7 L288.9,301.7 L290.3,301.7 L291.7,301.7 L293.2,301.7 L294.6,301.7 L296.0,301.7 L297.4,301.7 L298.9,301.7 L300.3,301.7 L301.7,301.7 L303.1,301.7 L304.5,301.7 L306.0,301.7 L307.4,301.7 L308.8,301.7 L310.2,301.7 L311.6,301.7 L313.1,301.7 L314.5,301.7 L315.9,301.7 L317.3,301.7 L318.8,301.7 L320.2,301.7 L321.6,301.7 L323.0,301.7 L324.4,301.7 L325.9,301.7 L327.3,301.7 L328.7,301.7 L330.1,301.7 L331.6,301.7 L333.0,301.7 L334.4,301.7 L335.8,301.7 L337.2,301.7 L338.7,301.7 L340.1,301.7 L341.5,301.7 L342.9,301.7 L344.3,301.7 L345.8,301.7 L347.2,301.7 L348.6,301.7 L350.0,301.7 L351.5,301.7 L352.9,301.7 L354.3,301.7 L355.7,301.7 L357.1,301.7 L358.6,301.7 L360.0,301.7 L361.4,301.7 L362.8,301.7 L364.3,301.7 L365.7,301.7 L367.1,301.7 L368.5,301.7 L369.9,301.7 L371.4,301.7 L372.8,301.7 L374.2,301.7 L375.6,301.7 L377.1,301.7 L378.5,301.7 L379.9,301.7 L381.3,301.7 L382.7,301.7 L384.2,301.7 L385.6,301.7 L387.0,301.7 L388.4,301.7 L389.8,301.7 L391.3,301.7 L392.7,301.7 L394.1,301.7 L395.5,301.7 L397.0,301.7 L398.4,301.7 L399.8,301.7 L401.2,301.7 L402.6,301.7 L404.1,301.7 L405.5,301.7 L406.9,301.7 L408.3,301.7 L409.8,301.7 L411.2,301.7 L412.6,301.7 L414.0,301.7 L415.4,301.7 L416.9,301.7 L418.3,301.7 L419.7,301.7 L421.1,301.7 L422.5,301.7 L424.0,301.7 L425.4,301.7 L426.8,301.7 L428.2,301.7 L429.7,301.7 L431.1,301.6 L432.5,301.6 L433.9,301.6 L435.3,301.6 L436.8,301.6 L438.2,301.6 L439.6,301.6 L441.0,301.6 L442.5,301.6 L443.9,301.6 L445.3,301.6 L446.7,301.6 L448.1,301.6 L449.6,301.6 L451.0,301.6 L452.4,301.6 L453.8,301.6 L455.3,301.6 L456.7,301.6 L458.1,301.6 L459.5,301.6 L460.9,301.6 L462.4,301.6 L463.8,301.6 L465.2,301.6 L466.6,301.6 L468.0,301.6 L469.5,301.6 L470.9,301.6 L472.3,301.6 L473.7,301.6 L475.2,301.6 L476.6,301.6 L478.0,301.6 L479.4,301.6 L480.8,301.6 L482.3,301.6 L483.7,301.6 L485.1,301.6 L486.5,301.6 L488.0,301.6 L489.4,301.6 L490.8,301.6 L492.2,301.5 L493.6,301.5 L495.1,301.5 L496.5,301.5 L497.9,301.5 L499.3,301.5 L500.7,301.5 L502.2,301.5 L503.6,301.5 L505.0,301.5 L506.4,301.5 L507.9,301.5 L509.3,301.5 L510.7,301.5 L512.1,301.4 L513.5,301.4 L515.0,301.4 L516.4,301.4 L517.8,301.4 L519.2,301.4 L520.7,301.4 L522.1,301.3 L523.5,301.3 L524.9,301.3 L526.3,301.3 L527.8,301.2 L529.2,301.2 L530.6,301.2 L532.0,301.2 L533.4,301.1 L534.9,301.1 L536.3,301.0 L537.7,301.0 L539.1,300.9 L540.6,300.9 L542.0,300.8 L543.4,300.7 L544.8,300.5 L546.2,300.4 L547.7,300.2 L549.1,300.0 L550.5,299.7 L551.9,299.3 L553.4,298.9 L554.8,298.3 L556.2,297.6 L557.6,296.8 L559.0,295.9 L560.5,294.8 L561.9,293.6 L563.3,292.3 L564.7,291.0 L566.2,289.5 L567.6,288.1 L569.0,286.8 L570.4,285.7 L571.8,284.8 L573.3,284.4 L574.7,284.3 L576.1,284.9 L577.5,285.9 L578.9,287.2 L580.4,288.8 L581.8,290.4 L583.2,292.0 L584.6,293.6 L586.1,294.9 L587.5,296.1 L588.9,297.1 L590.3,298.0 L591.7,298.7 L593.2,299.2 L594.6,299.7 L596.0,300.0 L597.4,300.3 L598.9,300.5 L600.3,300.6 L601.7,300.7 L603.1,300.8 L604.5,300.9 L606.0,301.0 L607.4,301.0 L608.8,301.1 L610.2,301.1 L611.6,301.2 L613.1,301.2 L614.5,301.2 L615.9,301.3 L617.3,301.3 L618.8,301.3 L620.2,301.3 L621.6,301.4 L623.0,301.4 L624.4,301.4 L625.9,301.4 L627.3,301.4 L628.7,301.4 L630.1,301.5 L631.6,301.5 L633.0,301.5 L634.4,301.5 L635.8,301.5 L637.2,301.5 L638.7,301.5 L640.1,301.5 L641.5,301.5 L642.9,301.5 L644.3,301.5 L645.8,301.6 L647.2,301.6 L648.6,301.6 L650.0,301.6 L651.5,301.6 L652.9,301.6 L654.3,301.6 L655.7,301.6 L657.1,301.6 L658.6,301.6 L660.0,301.6 L661.4,301.6 L662.8,301.6 L664.3,301.6 L665.7,301.6"/>
<path stroke="#332288" marker-start="url(#m7)" marker-mid="url(#m7)" marker-end="url(#m7)" d="M681.9,301.0 L686.0,301.0 L690.1,301.0 L694.2,301.0 L698.3,301.0 L702.4,301.0 L706.6,301.0 L710.7,301.0 L714.8,301.0 L718.9,301.0 L723.0,301.0 L727.1,301.0 L731.2,301.0 L735.3,301.0 L739.4,301.0 L743.5,301.0 L747.6,301.0 L751.8,301.0 L755.9,301.0 L760.0,301.0 L764.1,301.0 L768.2,301.0 L772.3,301.0 L776.4,301.0 L780.5,301.0 L784.6,301.0 L788.7,301.0 L792.8,301.0 L797.0,301.0 L801.1,301.0 L805.2,301.0 L809.3,301.0 L813.4,301.0 L817.5,301.0 L821.6,301.0 L825.7,301.0 L829.8,301.0 L833.9,301.0 L838.0,301.0 L842.2,301.0 L846.3,301.0 L850.4,301.0 L854.5,301.0 L858.6,301.0 L862.7,301.0 L866.8,301.0 L870.9,301.0 L875.0,301.0 L879.1,301.0 L883.2,301.0 L887.3,301.0 L891.5,301.0 L895.6,301.0 L899.7,301.0 L903.8,301.0 L907.9,301.0 L912.0,301.0 L916.1,301.0 L920.2,301.0 L924.3,301.0 L928.4,301.0 L932.5,301.0 L936.7,301.0 L940.8,301.0 L944.9,301.0 L949.0,301.0 L953.1,301.0 L957.2,301.0 L961.3,301.0 L965.4,301.0 L969.5,301.0 L973.6,301.0 L977.7,301.0 L981.9,301.0 L986.0,301.0 L990.1,301.0 L994.2,301.0 L998.3,301.0 L1002.4,301.0 L1006.5,301.0 L1010.6,301.0 L1014.7,301.0 L1018.8,301.0 L1022.9,301.0 L1027.1,301.0 L1031.2,301.0 L1035.3,301.0 L1039.4,301.0 L1043.5,301.0 L1047.6,301.0 L1051.7,301.0 L1055.8,301.0 L1059.9,301.0 L1064.0,301.0 L1068.1,301.0 L1072.3,301.0 L1076.4,301.0 L1080.5,301.0 L1084.6,301.0 L1088.7,301.0 L1092.8,300.9 L1096.9,300.8 L1101.0,300.8 L1105.1,300.7 L1109.2,300.6 L1113.3,300.5 L1117.5,300.4 L1121.6,300.2 L1125.7,300.0 L1129.8,299.7 L1133.9,299.5 L1138.0,299.1 L1142.1,298.5 L1146.2,297.8 L1150.3,296.9 L1154.4,295.7 L1158.5,294.2 L1162.7,292.4 L1166.8,290.3 L1170.9,288.1 L1175.0,285.7 L1179.1,284.0 L1183.2,282.9 L1187.3,282.1 L1191.4,281.7 L1195.5,281.5 L1199.6,281.7 L1203.7,282.3 L1207.9,283.1 L1212.0,284.7 L1216.1,286.5 L1220.2,288.0 L1224.3,289.4 L1228.4,290.8 L1232.5,292.0 L1236.6,293.1 L1240.7,294.1 L1244.8,295.0 L1248.9,295.9 L1253.1,296.7 L1257.2,297.3 L1261.3,297.9 L1265.4,298.3 L1269.5,298.7 L1273.6,299.1 L1277.7,299.3 L1281.8,299.6 L1285.9,299.8 L1290.0,300.0 L1294.1,300.1 L1298.2,300.3 L1302.4,300.4 L1306.5,300.5 L1310.6,300.5 L1314.7,300.6 L1318.8,300.7 L1322.9,300.7 L1327.0,300.8 L1331.1,300.8 L1335.2,300.8 L1339.3,300.9 L1343.4,300.9 L1347.6,300.9"/>
</g>
<path fill="none" stroke="#000" stroke-width="1.3" d="M667.4,8.3 H98.7 V331.8 H667.4 M681.4,8.3 H1349.35 V331.8 H681.4 M659.5,14.9 L674.3,1.8 M673.6,14.9 L688.4,1.8 M659.5,338.4 L674.3,325.3 M673.6,338.4 L688.4,325.3 M98.7,311.5 h11.3 M98.7,261.0 h6.0 M98.7,210.4 h11.3 M98.7,159.9 h6.0 M98.7,109.4 h11.3 M98.7,58.8 h6.0 M134.2,331.8 v-6.0 M169.8,331.8 v-11.5 M205.3,331.8 v-6.0 M240.9,331.8 v-6.0 M276.4,331.8 v-6.0 M312.0,331.8 v-11.5 M347.5,331.8 v-6.0 M383.0,331.8 v-6.0 M418.6,331.8 v-6.0 M454.1,331.8 v-11.5 M489.7,331.8 v-6.0 M525.2,331.8 v-6.0 M560.8,331.8 v-6.0 M596.3,331.8 v-11.5 M631.9,331.8 v-6.0 M667.4,331.8 v-6.0 M681.4,331.8 v-6.0 M732.8,331.8 v-6.0 M784.1,331.8 v-11.5 M835.5,331.8 v-6.0 M886.8,331.8 v-6.0 M938.2,331.8 v-6.0 M989.6,331.8 v-11.5 M1040.9,331.8 v-6.0 M1092.3,331.8 v-6.0 M1143.7,331.8 v-6.0 M1195.0,331.8 v-11.5 M1246.4,331.8 v-6.0 M1297.7,331.8 v-6.0"/>
<rect x="212.0" y="33.8" width="313.2" height="191.5" fill="#fff"/>
<rect x="283.6" y="186.7" width="10.3" height="10.3" fill="#f00"/>
<rect x="299.2" y="146.2" width="10.3" height="10.3" fill="#f00"/>
<rect x="350.9" y="157.1" width="10.3" height="10.3" fill="#f00"/>
<rect x="357.2" y="187.2" width="10.3" height="10.3" fill="#f00"/>
<rect x="391.6" y="199.5" width="10.3" height="10.3" fill="#f00"/>
<rect x="415.1" y="200.5" width="10.3" height="10.3" fill="#f00"/>
<rect x="427.7" y="202.0" width="10.3" height="10.3" fill="#f00"/>
<rect x="448.0" y="202.9" width="10.3" height="10.3" fill="#f00"/>
<path fill="none" stroke="#000" stroke-width="1.5" stroke-linejoin="round" d="M212.0,212.6 L212.8,212.6 L213.6,212.6 L214.4,212.6 L215.1,212.6 L215.9,212.6 L216.7,212.6 L217.5,212.6 L218.3,212.5 L219.1,212.5 L219.8,212.5 L220.6,212.5 L221.4,212.5 L222.2,212.5 L223.0,212.5 L223.8,212.4 L224.6,212.4 L225.3,212.4 L226.1,212.4 L226.9,212.4 L227.7,212.3 L228.5,212.3 L229.3,212.3 L230.1,212.3 L230.8,212.3 L231.6,212.2 L232.4,212.2 L233.2,212.2 L234.0,212.1 L234.8,212.1 L235.5,212.1 L236.3,212.1 L237.1,212.0 L237.9,212.0 L238.7,212.0 L239.5,211.9 L240.3,211.9 L241.0,211.8 L241.8,211.8 L242.6,211.7 L243.4,211.7 L244.2,211.7 L245.0,211.6 L245.8,211.6 L246.5,211.5 L247.3,211.4 L248.1,211.4 L248.9,211.3 L249.7,211.2 L250.5,211.2 L251.2,211.1 L252.0,211.0 L252.8,210.9 L253.6,210.9 L254.4,210.8 L255.2,210.7 L256.0,210.6 L256.7,210.5 L257.5,210.4 L258.3,210.3 L259.1,210.1 L259.9,210.0 L260.7,209.9 L261.5,209.7 L262.2,209.6 L263.0,209.4 L263.8,209.3 L264.6,209.1 L265.4,208.9 L266.2,208.7 L266.9,208.5 L267.7,208.3 L268.5,208.1 L269.3,207.9 L270.1,207.6 L270.9,207.3 L271.7,207.0 L272.4,206.7 L273.2,206.4 L274.0,206.1 L274.8,205.7 L275.6,205.3 L276.4,204.9 L277.2,204.5 L277.9,204.0 L278.7,203.5 L279.5,203.0 L280.3,202.5 L281.1,201.9 L281.9,201.2 L282.6,200.5 L283.4,199.8 L284.2,199.1 L285.0,198.2 L285.8,197.4 L286.6,196.4 L287.4,195.4 L288.1,194.4 L288.9,193.3 L289.7,192.1 L290.5,190.8 L291.3,189.4 L292.1,187.9 L292.9,186.4 L293.6,184.7 L294.4,183.0 L295.2,181.1 L296.0,179.2 L296.8,177.1 L297.6,174.9 L298.3,172.5 L299.1,170.1 L299.9,167.5 L300.7,164.8 L301.5,162.0 L302.3,159.0 L303.1,155.9 L303.8,152.8 L304.6,149.5 L305.4,146.1 L306.2,142.7 L307.0,139.1 L307.8,135.6 L308.6,132.0 L309.3,128.4 L310.1,124.8 L310.9,121.2 L311.7,117.7 L312.5,114.3 L313.3,110.9 L314.0,107.7 L314.8,104.5 L315.6,101.6 L316.4,98.8 L317.2,96.1 L318.0,93.6 L318.8,91.4 L319.5,89.3 L320.3,87.4 L321.1,85.7 L321.9,84.2 L322.7,82.9 L323.5,81.7 L324.2,80.8 L325.0,80.0 L325.8,79.5 L326.6,79.1 L327.4,78.9 L328.2,78.8 L329.0,79.0 L329.7,79.3 L330.5,79.8 L331.3,80.4 L332.1,81.3 L332.9,82.3 L333.7,83.6 L334.5,85.0 L335.2,86.6 L336.0,88.4 L336.8,90.4 L337.6,92.6 L338.4,95.0 L339.2,97.6 L339.9,100.3 L340.7,103.2 L341.5,106.3 L342.3,109.4 L343.1,112.8 L343.9,116.2 L344.7,119.6 L345.4,123.2 L346.2,126.8 L347.0,130.4 L347.8,134.0 L348.6,137.6 L349.4,141.1 L350.2,144.6 L350.9,148.0 L351.7,151.3 L352.5,154.5 L353.3,157.7 L354.1,160.7 L354.9,163.6 L355.6,166.3 L356.4,168.9 L357.2,171.5 L358.0,173.8 L358.8,176.1 L359.6,178.2 L360.4,180.3 L361.1,182.2 L361.9,184.0 L362.7,185.7 L363.5,187.3 L364.3,188.8 L365.1,190.2 L365.9,191.5 L366.6,192.7 L367.4,193.9 L368.2,195.0 L369.0,196.0 L369.8,197.0 L370.6,197.9 L371.3,198.7 L372.1,199.5 L372.9,200.2 L373.7,200.9 L374.5,201.6 L375.3,202.2 L376.1,202.8 L376.8,203.3 L377.6,203.8 L378.4,204.3 L379.2,204.7 L380.0,205.2 L380.8,205.6 L381.6,205.9 L382.3,206.3 L383.1,206.6 L383.9,206.9 L384.7,207.2 L385.5,207.5 L386.3,207.7 L387.0,208.0 L387.8,208.2 L388.6,208.4 L389.4,208.7 L390.2,208.8 L391.0,209.0 L391.8,209.2 L392.5,209.4 L393.3,209.5 L394.1,209.7 L394.9,209.8 L395.7,210.0 L396.5,210.1 L397.3,210.2 L398.0,210.3 L398.8,210.4 L399.6,210.5 L400.4,210.6 L401.2,210.7 L402.0,210.8 L402.7,210.9 L403.5,211.0 L404.3,211.1 L405.1,211.1 L405.9,211.2 L406.7,211.3 L407.5,211.3 L408.2,211.4 L409.0,211.5 L409.8,211.5 L410.6,211.6 L411.4,211.6 L412.2,211.7 L413.0,211.7 L413.7,211.8 L414.5,211.8 L415.3,211.9 L416.1,211.9 L416.9,211.9 L417.7,212.0 L418.4,212.0 L419.2,212.0 L420.0,212.1 L420.8,212.1 L421.6,212.1 L422.4,212.2 L423.2,212.2 L423.9,212.2 L424.7,212.2 L425.5,212.3 L426.3,212.3 L427.1,212.3 L427.9,212.3 L428.6,212.4 L429.4,212.4 L430.2,212.4 L431.0,212.4 L431.8,212.4 L432.6,212.5 L433.4,212.5 L434.1,212.5 L434.9,212.5 L435.7,212.5 L436.5,212.5 L437.3,212.5 L438.1,212.6 L438.9,212.6 L439.6,212.6 L440.4,212.6 L441.2,212.6 L442.0,212.6 L442.8,212.6 L443.6,212.6 L444.3,212.7 L445.1,212.7 L445.9,212.7 L446.7,212.7 L447.5,212.7 L448.3,212.7 L449.1,212.7 L449.8,212.7 L450.6,212.7 L451.4,212.7 L452.2,212.7 L453.0,212.7 L453.8,212.8 L454.6,212.8 L455.3,212.8 L456.1,212.8 L456.9,212.8 L457.7,212.8 L458.5,212.8 L459.3,212.8 L460.0,212.8 L460.8,212.8 L461.6,212.8 L462.4,212.8 L463.2,212.8 L464.0,212.8 L464.8,212.8 L465.5,212.8 L466.3,212.8 L467.1,212.8 L467.9,212.9 L468.7,212.9 L469.5,212.9 L470.3,212.9 L471.0,212.9 L471.8,212.9 L472.6,212.9 L473.4,212.9 L474.2,212.9 L475.0,212.9 L475.7,212.9 L476.5,212.9 L477.3,212.9 L478.1,212.9 L478.9,212.9 L479.7,212.9 L480.5,212.9 L481.2,212.9 L482.0,212.9 L482.8,212.9 L483.6,212.9 L484.4,212.9 L485.2,212.9 L486.0,212.9 L486.7,212.9 L487.5,212.9 L488.3,212.9 L489.1,212.9 L489.9,212.9 L490.7,212.9 L491.4,212.9 L492.2,212.9 L493.0,212.9 L493.8,212.9 L494.6,212.9 L495.4,212.9 L496.2,212.9 L496.9,213.0 L497.7,213.0 L498.5,213.0 L499.3,213.0 L500.1,213.0 L500.9,213.0 L501.7,213.0 L502.4,213.0 L503.2,213.0 L504.0,213.0 L504.8,213.0 L505.6,213.0 L506.4,213.0 L507.1,213.0 L507.9,213.0 L508.7,213.0 L509.5,213.0 L510.3,213.0 L511.1,213.0 L511.9,213.0 L512.6,213.0 L513.4,213.0 L514.2,213.0 L515.0,213.0 L515.8,213.0 L516.6,213.0 L517.4,213.0 L518.1,213.0 L518.9,213.0 L519.7,213.0 L520.5,213.0 L521.3,213.0 L522.1,213.0 L522.8,213.0 L523.6,213.0 L524.4,213.0 L525.2,213.0"/>
<path fill="none" stroke="#000" stroke-width="1.3" d="M212.0,33.8 H525.2 V225.3 H212.0 Z M212.0,213.4 h11.5 M212.0,198.4 h6.0 M212.0,183.5 h6.0 M212.0,168.5 h6.0 M212.0,153.6 h11.5 M212.0,138.6 h6.0 M212.0,123.6 h6.0 M212.0,108.7 h6.0 M212.0,93.7 h11.5 M212.0,78.7 h6.0 M212.0,63.8 h6.0 M212.0,48.8 h6.0 M227.7,225.3 v-6.0 M243.3,225.3 v-6.0 M259.0,225.3 v-6.0 M274.6,225.3 v-6.0 M290.3,225.3 v-11.3 M306.0,225.3 v-6.0 M321.6,225.3 v-6.0 M337.3,225.3 v-6.0 M352.9,225.3 v-6.0 M368.6,225.3 v-11.3 M384.3,225.3 v-6.0 M399.9,225.3 v-6.0 M415.6,225.3 v-6.0 M431.2,225.3 v-6.0 M446.9,225.3 v-11.3 M462.6,225.3 v-6.0 M478.2,225.3 v-6.0 M493.9,225.3 v-6.0 M509.5,225.3 v-6.0"/>
<g fill="none" stroke-width="3" stroke-linecap="round">
<path stroke="#AA4499" d="M1247.5,33.0 H1319.2"/>
<path stroke="#CC6677" d="M1247.5,60.6 H1319.2"/>
<path stroke="#DDCC77" d="M1247.5,88.1 H1319.2"/>
<path stroke="#999933" d="M1247.5,115.7 H1319.2"/>
<path stroke="#117733" d="M1247.5,143.3 H1319.2"/>
<path stroke="#44AA99" d="M1247.5,170.8 H1319.2"/>
<path stroke="#88CCEE" d="M1247.5,198.4 H1319.2"/>
<path stroke="#332288" d="M1247.5,226.0 H1319.2"/>
</g>
<circle cx="1283.4" cy="33.0" r="2.05" fill="#AA4499"/>
<circle cx="1283.4" cy="60.6" r="2.05" fill="#CC6677"/>
<circle cx="1283.4" cy="88.1" r="2.05" fill="#DDCC77"/>
<circle cx="1283.4" cy="115.7" r="2.05" fill="#999933"/>
<circle cx="1283.4" cy="143.3" r="2.05" fill="#117733"/>
<circle cx="1283.4" cy="170.8" r="2.05" fill="#44AA99"/>
<circle cx="1283.4" cy="198.4" r="2.05" fill="#88CCEE"/>
<circle cx="1283.4" cy="226.0" r="2.05" fill="#332288"/>
<g font-family="'DejaVu Sans', 'Liberation Sans', sans-serif" font-size="24" fill="#000">
<text x="1232.8" y="41.9" text-anchor="end">1.49</text>
<text x="1232.8" y="69.5" text-anchor="end">1.59</text>
<text x="1232.8" y="97.0" text-anchor="end">1.92</text>
<text x="1232.8" y="124.6" text-anchor="end">1.96</text>
<text x="1232.8" y="152.2" text-anchor="end">2.18</text>
<text x="1232.8" y="179.8" text-anchor="end">2.33</text>
<text x="1232.8" y="207.3" text-anchor="end">2.41</text>
<text x="1232.8" y="234.9" text-anchor="end">2.54</text>
<text x="84" y="320.4" text-anchor="end">0</text>
<text x="84" y="219.3" text-anchor="end">5</text>
<text x="84" y="118.3" text-anchor="end">10</text>
<text x="84" y="17.2" text-anchor="end">15</text>
<text x="173.0" y="368.9" text-anchor="middle">1300</text>
<text x="315.2" y="368.9" text-anchor="middle">1400</text>
<text x="457.3" y="368.9" text-anchor="middle">1500</text>
<text x="599.5" y="368.9" text-anchor="middle">1600</text>
<text x="787.7" y="368.9" text-anchor="middle">2500</text>
<text x="993.2" y="368.9" text-anchor="middle">2600</text>
<text x="1198.6" y="368.9" text-anchor="middle">2700</text>
<text x="197" y="222.3" text-anchor="end">0</text>
<text x="197" y="162.5" text-anchor="end">20</text>
<text x="197" y="102.6" text-anchor="end">40</text>
<text x="197" y="42.7" text-anchor="end">60</text>
<text x="215.3" y="261.6" text-anchor="middle">1</text>
<text x="293.6" y="261.6" text-anchor="middle">1.5</text>
<text x="371.9" y="261.6" text-anchor="middle">2</text>
<text x="450.2" y="261.6" text-anchor="middle">2.5</text>
<text x="528.5" y="261.6" text-anchor="middle">3</text>
<text x="327.6" y="289.5" word-spacing="-1.5">E<tspan font-size="19.2" dy="5.3">L</tspan><tspan dy="-5.3"> (eV)</tspan></text>
<text x="574.0" y="409.8" word-spacing="-1.45">Raman shift (cm<tspan font-size="19.2" dy="-9">-1</tspan><tspan dy="9">)</tspan></text>
<text transform="translate(18.6,294.6) rotate(-90)" word-spacing="-1.0">Raman intensity (au)</text>
<text transform="translate(147.1,195.1) rotate(-90)" letter-spacing="-0.3">I(G)/I(G<tspan font-size="19.2" dy="5.3">SLG</tspan><tspan dy="-5.3">)</tspan></text>
</g>
</svg>
</body></html>
